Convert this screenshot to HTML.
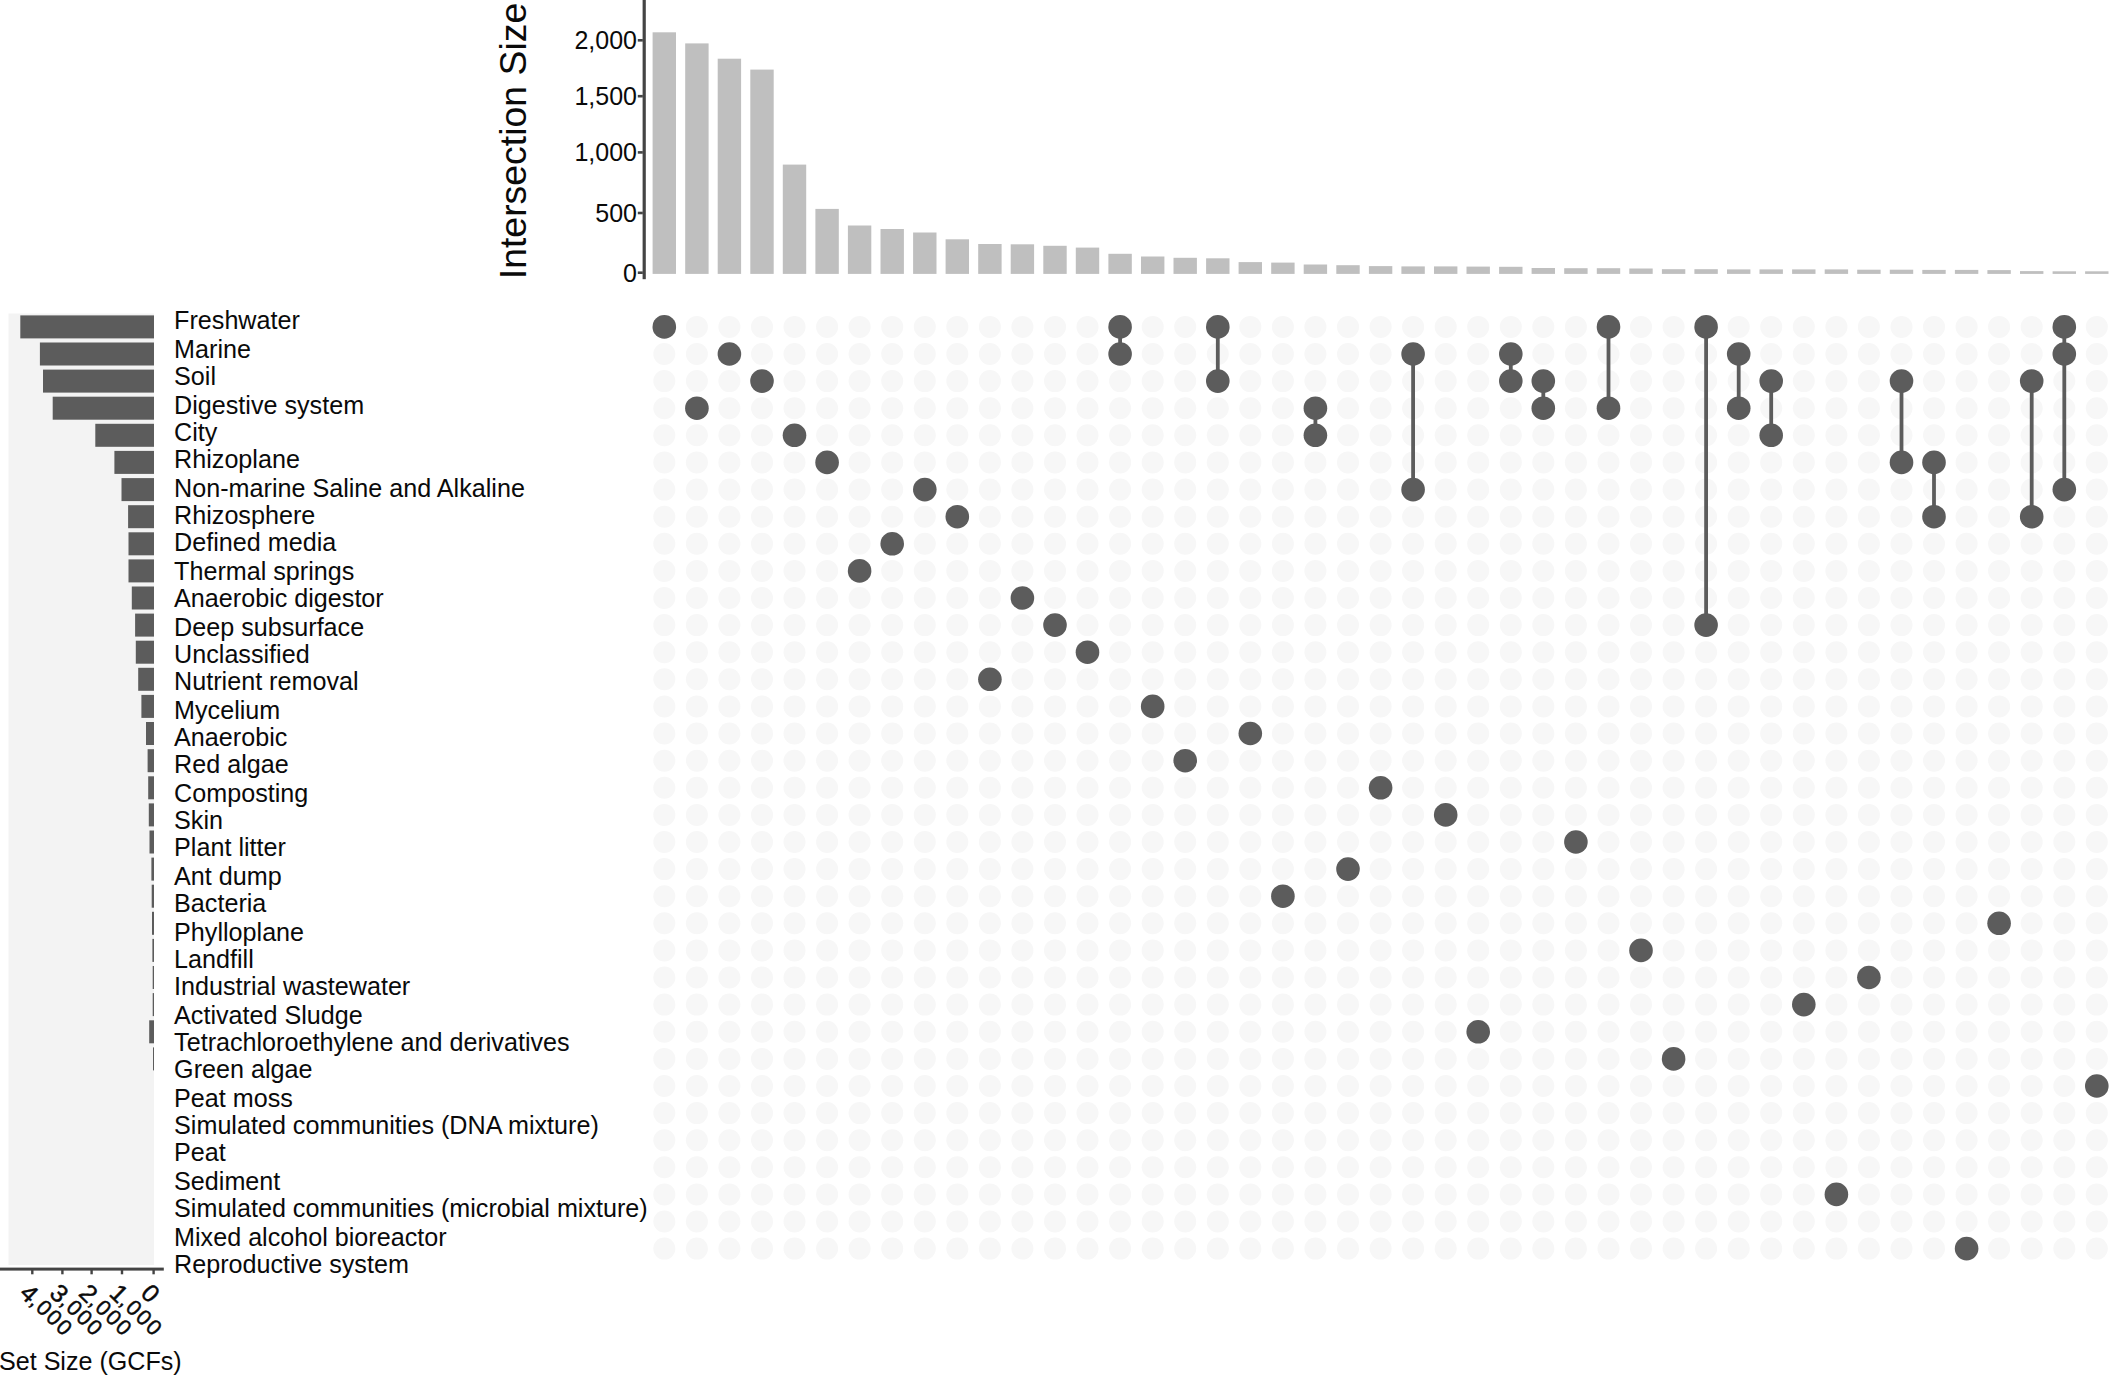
<!DOCTYPE html>
<html><head><meta charset="utf-8"><title>UpSet plot</title>
<style>html,body{margin:0;padding:0;background:#fff;overflow:hidden}svg{display:block}</style>
</head><body>
<svg width="2114" height="1376" viewBox="0 0 2114 1376" font-family="'Liberation Sans', sans-serif" fill="#0a0a0a">
<rect width="2114" height="1376" fill="#ffffff"/>
<rect x="8.5" y="313.5" width="145.5" height="951.5" fill="#f3f3f3"/>
<g fill="#5c5c5c">
<rect x="20.3" y="315.4" width="133.7" height="23"/>
<rect x="39.9" y="342.5" width="114.1" height="23"/>
<rect x="43.0" y="369.6" width="111.0" height="23"/>
<rect x="52.7" y="396.7" width="101.3" height="23"/>
<rect x="95.3" y="423.8" width="58.7" height="23"/>
<rect x="114.4" y="450.9" width="39.6" height="23"/>
<rect x="121.5" y="478.1" width="32.5" height="23"/>
<rect x="128.1" y="505.2" width="25.9" height="23"/>
<rect x="128.5" y="532.3" width="25.5" height="23"/>
<rect x="128.5" y="559.4" width="25.5" height="23"/>
<rect x="131.8" y="586.5" width="22.2" height="23"/>
<rect x="135.1" y="613.6" width="18.9" height="23"/>
<rect x="135.8" y="640.7" width="18.2" height="23"/>
<rect x="138.2" y="667.8" width="15.8" height="23"/>
<rect x="141.4" y="694.9" width="12.6" height="23"/>
<rect x="146.0" y="722.0" width="8.0" height="23"/>
<rect x="147.6" y="749.2" width="6.4" height="23"/>
<rect x="148.2" y="776.3" width="5.8" height="23"/>
<rect x="148.8" y="803.4" width="5.2" height="23"/>
<rect x="149.5" y="830.5" width="4.5" height="23"/>
<rect x="151.4" y="857.6" width="2.6" height="23"/>
<rect x="151.7" y="884.7" width="2.3" height="23"/>
<rect x="152.0" y="911.8" width="2.0" height="23"/>
<rect x="152.4" y="938.9" width="1.6" height="23"/>
<rect x="152.7" y="966.0" width="1.3" height="23"/>
<rect x="152.7" y="993.1" width="1.3" height="23"/>
<rect x="149.2" y="1020.3" width="4.8" height="23"/>
<rect x="153.0" y="1047.4" width="1.0" height="23"/>
</g>
<rect x="0" y="1267.6" width="163.8" height="3" fill="#444444"/>
<rect x="31.1" y="1269" width="2.4" height="5.3" fill="#444444"/>
<rect x="61.2" y="1269" width="2.4" height="5.3" fill="#444444"/>
<rect x="90.4" y="1269" width="2.4" height="5.3" fill="#444444"/>
<rect x="120.8" y="1269" width="2.4" height="5.3" fill="#444444"/>
<rect x="152.4" y="1269" width="2.4" height="5.3" fill="#444444"/>
<text font-size="25" stroke="#0a0a0a" stroke-width="0.45" transform="translate(24.4,1288.3) rotate(44)" x="0" y="8.9">4<tspan font-size="21.5" letter-spacing="2" dy="-1.2">,000</tspan></text>
<text font-size="25" stroke="#0a0a0a" stroke-width="0.45" transform="translate(54.5,1288.3) rotate(44)" x="0" y="8.9">3<tspan font-size="21.5" letter-spacing="2" dy="-1.2">,000</tspan></text>
<text font-size="25" stroke="#0a0a0a" stroke-width="0.45" transform="translate(83.7,1288.3) rotate(44)" x="0" y="8.9">2<tspan font-size="21.5" letter-spacing="2" dy="-1.2">,000</tspan></text>
<text font-size="25" stroke="#0a0a0a" stroke-width="0.45" transform="translate(114.1,1288.3) rotate(44)" x="0" y="8.9">1<tspan font-size="21.5" letter-spacing="2" dy="-1.2">,000</tspan></text>
<text font-size="25" stroke="#0a0a0a" stroke-width="0.45" transform="translate(145.7,1288.3) rotate(45)" x="0" y="8.9">0</text>
<text font-size="25.1" x="-1" y="1370.1">Set Size (GCFs)</text>
<g font-size="25.15">
<text x="174.1" y="328.5">Freshwater</text>
<text x="174.1" y="357.5">Marine</text>
<text x="174.1" y="384.5">Soil</text>
<text x="174.1" y="413.5">Digestive system</text>
<text x="174.1" y="440.5">City</text>
<text x="174.1" y="467.5">Rhizoplane</text>
<text x="174.1" y="496.5">Non-marine Saline and Alkaline</text>
<text x="174.1" y="523.5">Rhizosphere</text>
<text x="174.1" y="550.5">Defined media</text>
<text x="174.1" y="579.5">Thermal springs</text>
<text x="174.1" y="606.5">Anaerobic digestor</text>
<text x="174.1" y="635.5">Deep subsurface</text>
<text x="174.1" y="662.5">Unclassified</text>
<text x="174.1" y="689.5">Nutrient removal</text>
<text x="174.1" y="718.5">Mycelium</text>
<text x="174.1" y="745.5">Anaerobic</text>
<text x="174.1" y="772.5">Red algae</text>
<text x="174.1" y="801.5">Composting</text>
<text x="174.1" y="828.5">Skin</text>
<text x="174.1" y="855.5">Plant litter</text>
<text x="174.1" y="884.5">Ant dump</text>
<text x="174.1" y="911.5">Bacteria</text>
<text x="174.1" y="940.5">Phylloplane</text>
<text x="174.1" y="967.5">Landfill</text>
<text x="174.1" y="994.5">Industrial wastewater</text>
<text x="174.1" y="1023.5">Activated Sludge</text>
<text x="174.1" y="1050.5">Tetrachloroethylene and derivatives</text>
<text x="174.1" y="1077.5">Green algae</text>
<text x="174.1" y="1106.5">Peat moss</text>
<text x="174.1" y="1133.5">Simulated communities (DNA mixture)</text>
<text x="174.1" y="1160.5">Peat</text>
<text x="174.1" y="1189.5">Sediment</text>
<text x="174.1" y="1216.5">Simulated communities (microbial mixture)</text>
<text x="174.1" y="1245.5">Mixed alcohol bioreactor</text>
<text x="174.1" y="1272.5">Reproductive system</text>
</g>
<g fill="#bfbfbf">
<rect x="652.6" y="32.3" width="23.4" height="241.6"/>
<rect x="685.2" y="43.4" width="23.4" height="230.5"/>
<rect x="717.7" y="58.7" width="23.4" height="215.2"/>
<rect x="750.3" y="69.6" width="23.4" height="204.3"/>
<rect x="782.8" y="164.6" width="23.4" height="109.3"/>
<rect x="815.4" y="208.9" width="23.4" height="65.0"/>
<rect x="847.9" y="225.5" width="23.4" height="48.4"/>
<rect x="880.5" y="229.0" width="23.4" height="44.9"/>
<rect x="913.1" y="232.5" width="23.4" height="41.4"/>
<rect x="945.6" y="239.3" width="23.4" height="34.6"/>
<rect x="978.2" y="244.0" width="23.4" height="29.9"/>
<rect x="1010.7" y="244.3" width="23.4" height="29.6"/>
<rect x="1043.3" y="245.8" width="23.4" height="28.1"/>
<rect x="1075.8" y="247.6" width="23.4" height="26.3"/>
<rect x="1108.4" y="253.8" width="23.4" height="20.1"/>
<rect x="1141.0" y="256.5" width="23.4" height="17.4"/>
<rect x="1173.5" y="257.8" width="23.4" height="16.1"/>
<rect x="1206.1" y="258.3" width="23.4" height="15.6"/>
<rect x="1238.6" y="262.1" width="23.4" height="11.8"/>
<rect x="1271.2" y="262.6" width="23.4" height="11.3"/>
<rect x="1303.7" y="264.5" width="23.4" height="9.4"/>
<rect x="1336.3" y="265.2" width="23.4" height="8.7"/>
<rect x="1368.9" y="266.1" width="23.4" height="7.8"/>
<rect x="1401.4" y="266.4" width="23.4" height="7.5"/>
<rect x="1434.0" y="266.4" width="23.4" height="7.5"/>
<rect x="1466.5" y="266.6" width="23.4" height="7.3"/>
<rect x="1499.1" y="266.8" width="23.4" height="7.1"/>
<rect x="1531.6" y="268.0" width="23.4" height="5.9"/>
<rect x="1564.2" y="268.2" width="23.4" height="5.7"/>
<rect x="1596.8" y="268.2" width="23.4" height="5.7"/>
<rect x="1629.3" y="268.5" width="23.4" height="5.4"/>
<rect x="1661.9" y="269.2" width="23.4" height="4.7"/>
<rect x="1694.4" y="269.2" width="23.4" height="4.7"/>
<rect x="1727.0" y="269.4" width="23.4" height="4.5"/>
<rect x="1759.5" y="269.4" width="23.4" height="4.5"/>
<rect x="1792.1" y="269.4" width="23.4" height="4.5"/>
<rect x="1824.7" y="269.4" width="23.4" height="4.5"/>
<rect x="1857.2" y="269.7" width="23.4" height="4.2"/>
<rect x="1889.8" y="269.7" width="23.4" height="4.2"/>
<rect x="1922.3" y="269.9" width="23.4" height="4.0"/>
<rect x="1954.9" y="269.9" width="23.4" height="4.0"/>
<rect x="1987.4" y="270.1" width="23.4" height="3.8"/>
<rect x="2020.0" y="271.1" width="23.4" height="2.8"/>
<rect x="2052.6" y="271.3" width="23.4" height="2.6"/>
<rect x="2085.1" y="271.3" width="23.4" height="2.6"/>
</g>
<rect x="642.6" y="0" width="3.2" height="279.2" fill="#444444"/>
<rect x="637.8" y="39.0" width="5" height="2.6" fill="#444444"/>
<text font-size="25" text-anchor="end" x="637" y="49.3">2,000</text>
<rect x="637.8" y="94.9" width="5" height="2.6" fill="#444444"/>
<text font-size="25" text-anchor="end" x="637" y="105.2">1,500</text>
<rect x="637.8" y="151.1" width="5" height="2.6" fill="#444444"/>
<text font-size="25" text-anchor="end" x="637" y="161.4">1,000</text>
<rect x="637.8" y="211.7" width="5" height="2.6" fill="#444444"/>
<text font-size="25" text-anchor="end" x="637" y="222.0">500</text>
<rect x="637.8" y="271.4" width="5" height="2.6" fill="#444444"/>
<text font-size="25" text-anchor="end" x="637" y="281.7">0</text>
<text font-size="37.4" transform="translate(526.3,279.2) rotate(-90)">Intersection Size</text>
<g fill="#f7f7f7">
<circle cx="664.3" cy="326.9" r="11"/>
<circle cx="664.3" cy="354.0" r="11"/>
<circle cx="664.3" cy="381.1" r="11"/>
<circle cx="664.3" cy="408.2" r="11"/>
<circle cx="664.3" cy="435.3" r="11"/>
<circle cx="664.3" cy="462.4" r="11"/>
<circle cx="664.3" cy="489.6" r="11"/>
<circle cx="664.3" cy="516.7" r="11"/>
<circle cx="664.3" cy="543.8" r="11"/>
<circle cx="664.3" cy="570.9" r="11"/>
<circle cx="664.3" cy="598.0" r="11"/>
<circle cx="664.3" cy="625.1" r="11"/>
<circle cx="664.3" cy="652.2" r="11"/>
<circle cx="664.3" cy="679.3" r="11"/>
<circle cx="664.3" cy="706.4" r="11"/>
<circle cx="664.3" cy="733.5" r="11"/>
<circle cx="664.3" cy="760.7" r="11"/>
<circle cx="664.3" cy="787.8" r="11"/>
<circle cx="664.3" cy="814.9" r="11"/>
<circle cx="664.3" cy="842.0" r="11"/>
<circle cx="664.3" cy="869.1" r="11"/>
<circle cx="664.3" cy="896.2" r="11"/>
<circle cx="664.3" cy="923.3" r="11"/>
<circle cx="664.3" cy="950.4" r="11"/>
<circle cx="664.3" cy="977.5" r="11"/>
<circle cx="664.3" cy="1004.6" r="11"/>
<circle cx="664.3" cy="1031.8" r="11"/>
<circle cx="664.3" cy="1058.9" r="11"/>
<circle cx="664.3" cy="1086.0" r="11"/>
<circle cx="664.3" cy="1113.1" r="11"/>
<circle cx="664.3" cy="1140.2" r="11"/>
<circle cx="664.3" cy="1167.3" r="11"/>
<circle cx="664.3" cy="1194.4" r="11"/>
<circle cx="664.3" cy="1221.5" r="11"/>
<circle cx="664.3" cy="1248.6" r="11"/>
<circle cx="696.9" cy="326.9" r="11"/>
<circle cx="696.9" cy="354.0" r="11"/>
<circle cx="696.9" cy="381.1" r="11"/>
<circle cx="696.9" cy="408.2" r="11"/>
<circle cx="696.9" cy="435.3" r="11"/>
<circle cx="696.9" cy="462.4" r="11"/>
<circle cx="696.9" cy="489.6" r="11"/>
<circle cx="696.9" cy="516.7" r="11"/>
<circle cx="696.9" cy="543.8" r="11"/>
<circle cx="696.9" cy="570.9" r="11"/>
<circle cx="696.9" cy="598.0" r="11"/>
<circle cx="696.9" cy="625.1" r="11"/>
<circle cx="696.9" cy="652.2" r="11"/>
<circle cx="696.9" cy="679.3" r="11"/>
<circle cx="696.9" cy="706.4" r="11"/>
<circle cx="696.9" cy="733.5" r="11"/>
<circle cx="696.9" cy="760.7" r="11"/>
<circle cx="696.9" cy="787.8" r="11"/>
<circle cx="696.9" cy="814.9" r="11"/>
<circle cx="696.9" cy="842.0" r="11"/>
<circle cx="696.9" cy="869.1" r="11"/>
<circle cx="696.9" cy="896.2" r="11"/>
<circle cx="696.9" cy="923.3" r="11"/>
<circle cx="696.9" cy="950.4" r="11"/>
<circle cx="696.9" cy="977.5" r="11"/>
<circle cx="696.9" cy="1004.6" r="11"/>
<circle cx="696.9" cy="1031.8" r="11"/>
<circle cx="696.9" cy="1058.9" r="11"/>
<circle cx="696.9" cy="1086.0" r="11"/>
<circle cx="696.9" cy="1113.1" r="11"/>
<circle cx="696.9" cy="1140.2" r="11"/>
<circle cx="696.9" cy="1167.3" r="11"/>
<circle cx="696.9" cy="1194.4" r="11"/>
<circle cx="696.9" cy="1221.5" r="11"/>
<circle cx="696.9" cy="1248.6" r="11"/>
<circle cx="729.4" cy="326.9" r="11"/>
<circle cx="729.4" cy="354.0" r="11"/>
<circle cx="729.4" cy="381.1" r="11"/>
<circle cx="729.4" cy="408.2" r="11"/>
<circle cx="729.4" cy="435.3" r="11"/>
<circle cx="729.4" cy="462.4" r="11"/>
<circle cx="729.4" cy="489.6" r="11"/>
<circle cx="729.4" cy="516.7" r="11"/>
<circle cx="729.4" cy="543.8" r="11"/>
<circle cx="729.4" cy="570.9" r="11"/>
<circle cx="729.4" cy="598.0" r="11"/>
<circle cx="729.4" cy="625.1" r="11"/>
<circle cx="729.4" cy="652.2" r="11"/>
<circle cx="729.4" cy="679.3" r="11"/>
<circle cx="729.4" cy="706.4" r="11"/>
<circle cx="729.4" cy="733.5" r="11"/>
<circle cx="729.4" cy="760.7" r="11"/>
<circle cx="729.4" cy="787.8" r="11"/>
<circle cx="729.4" cy="814.9" r="11"/>
<circle cx="729.4" cy="842.0" r="11"/>
<circle cx="729.4" cy="869.1" r="11"/>
<circle cx="729.4" cy="896.2" r="11"/>
<circle cx="729.4" cy="923.3" r="11"/>
<circle cx="729.4" cy="950.4" r="11"/>
<circle cx="729.4" cy="977.5" r="11"/>
<circle cx="729.4" cy="1004.6" r="11"/>
<circle cx="729.4" cy="1031.8" r="11"/>
<circle cx="729.4" cy="1058.9" r="11"/>
<circle cx="729.4" cy="1086.0" r="11"/>
<circle cx="729.4" cy="1113.1" r="11"/>
<circle cx="729.4" cy="1140.2" r="11"/>
<circle cx="729.4" cy="1167.3" r="11"/>
<circle cx="729.4" cy="1194.4" r="11"/>
<circle cx="729.4" cy="1221.5" r="11"/>
<circle cx="729.4" cy="1248.6" r="11"/>
<circle cx="762.0" cy="326.9" r="11"/>
<circle cx="762.0" cy="354.0" r="11"/>
<circle cx="762.0" cy="381.1" r="11"/>
<circle cx="762.0" cy="408.2" r="11"/>
<circle cx="762.0" cy="435.3" r="11"/>
<circle cx="762.0" cy="462.4" r="11"/>
<circle cx="762.0" cy="489.6" r="11"/>
<circle cx="762.0" cy="516.7" r="11"/>
<circle cx="762.0" cy="543.8" r="11"/>
<circle cx="762.0" cy="570.9" r="11"/>
<circle cx="762.0" cy="598.0" r="11"/>
<circle cx="762.0" cy="625.1" r="11"/>
<circle cx="762.0" cy="652.2" r="11"/>
<circle cx="762.0" cy="679.3" r="11"/>
<circle cx="762.0" cy="706.4" r="11"/>
<circle cx="762.0" cy="733.5" r="11"/>
<circle cx="762.0" cy="760.7" r="11"/>
<circle cx="762.0" cy="787.8" r="11"/>
<circle cx="762.0" cy="814.9" r="11"/>
<circle cx="762.0" cy="842.0" r="11"/>
<circle cx="762.0" cy="869.1" r="11"/>
<circle cx="762.0" cy="896.2" r="11"/>
<circle cx="762.0" cy="923.3" r="11"/>
<circle cx="762.0" cy="950.4" r="11"/>
<circle cx="762.0" cy="977.5" r="11"/>
<circle cx="762.0" cy="1004.6" r="11"/>
<circle cx="762.0" cy="1031.8" r="11"/>
<circle cx="762.0" cy="1058.9" r="11"/>
<circle cx="762.0" cy="1086.0" r="11"/>
<circle cx="762.0" cy="1113.1" r="11"/>
<circle cx="762.0" cy="1140.2" r="11"/>
<circle cx="762.0" cy="1167.3" r="11"/>
<circle cx="762.0" cy="1194.4" r="11"/>
<circle cx="762.0" cy="1221.5" r="11"/>
<circle cx="762.0" cy="1248.6" r="11"/>
<circle cx="794.5" cy="326.9" r="11"/>
<circle cx="794.5" cy="354.0" r="11"/>
<circle cx="794.5" cy="381.1" r="11"/>
<circle cx="794.5" cy="408.2" r="11"/>
<circle cx="794.5" cy="435.3" r="11"/>
<circle cx="794.5" cy="462.4" r="11"/>
<circle cx="794.5" cy="489.6" r="11"/>
<circle cx="794.5" cy="516.7" r="11"/>
<circle cx="794.5" cy="543.8" r="11"/>
<circle cx="794.5" cy="570.9" r="11"/>
<circle cx="794.5" cy="598.0" r="11"/>
<circle cx="794.5" cy="625.1" r="11"/>
<circle cx="794.5" cy="652.2" r="11"/>
<circle cx="794.5" cy="679.3" r="11"/>
<circle cx="794.5" cy="706.4" r="11"/>
<circle cx="794.5" cy="733.5" r="11"/>
<circle cx="794.5" cy="760.7" r="11"/>
<circle cx="794.5" cy="787.8" r="11"/>
<circle cx="794.5" cy="814.9" r="11"/>
<circle cx="794.5" cy="842.0" r="11"/>
<circle cx="794.5" cy="869.1" r="11"/>
<circle cx="794.5" cy="896.2" r="11"/>
<circle cx="794.5" cy="923.3" r="11"/>
<circle cx="794.5" cy="950.4" r="11"/>
<circle cx="794.5" cy="977.5" r="11"/>
<circle cx="794.5" cy="1004.6" r="11"/>
<circle cx="794.5" cy="1031.8" r="11"/>
<circle cx="794.5" cy="1058.9" r="11"/>
<circle cx="794.5" cy="1086.0" r="11"/>
<circle cx="794.5" cy="1113.1" r="11"/>
<circle cx="794.5" cy="1140.2" r="11"/>
<circle cx="794.5" cy="1167.3" r="11"/>
<circle cx="794.5" cy="1194.4" r="11"/>
<circle cx="794.5" cy="1221.5" r="11"/>
<circle cx="794.5" cy="1248.6" r="11"/>
<circle cx="827.1" cy="326.9" r="11"/>
<circle cx="827.1" cy="354.0" r="11"/>
<circle cx="827.1" cy="381.1" r="11"/>
<circle cx="827.1" cy="408.2" r="11"/>
<circle cx="827.1" cy="435.3" r="11"/>
<circle cx="827.1" cy="462.4" r="11"/>
<circle cx="827.1" cy="489.6" r="11"/>
<circle cx="827.1" cy="516.7" r="11"/>
<circle cx="827.1" cy="543.8" r="11"/>
<circle cx="827.1" cy="570.9" r="11"/>
<circle cx="827.1" cy="598.0" r="11"/>
<circle cx="827.1" cy="625.1" r="11"/>
<circle cx="827.1" cy="652.2" r="11"/>
<circle cx="827.1" cy="679.3" r="11"/>
<circle cx="827.1" cy="706.4" r="11"/>
<circle cx="827.1" cy="733.5" r="11"/>
<circle cx="827.1" cy="760.7" r="11"/>
<circle cx="827.1" cy="787.8" r="11"/>
<circle cx="827.1" cy="814.9" r="11"/>
<circle cx="827.1" cy="842.0" r="11"/>
<circle cx="827.1" cy="869.1" r="11"/>
<circle cx="827.1" cy="896.2" r="11"/>
<circle cx="827.1" cy="923.3" r="11"/>
<circle cx="827.1" cy="950.4" r="11"/>
<circle cx="827.1" cy="977.5" r="11"/>
<circle cx="827.1" cy="1004.6" r="11"/>
<circle cx="827.1" cy="1031.8" r="11"/>
<circle cx="827.1" cy="1058.9" r="11"/>
<circle cx="827.1" cy="1086.0" r="11"/>
<circle cx="827.1" cy="1113.1" r="11"/>
<circle cx="827.1" cy="1140.2" r="11"/>
<circle cx="827.1" cy="1167.3" r="11"/>
<circle cx="827.1" cy="1194.4" r="11"/>
<circle cx="827.1" cy="1221.5" r="11"/>
<circle cx="827.1" cy="1248.6" r="11"/>
<circle cx="859.6" cy="326.9" r="11"/>
<circle cx="859.6" cy="354.0" r="11"/>
<circle cx="859.6" cy="381.1" r="11"/>
<circle cx="859.6" cy="408.2" r="11"/>
<circle cx="859.6" cy="435.3" r="11"/>
<circle cx="859.6" cy="462.4" r="11"/>
<circle cx="859.6" cy="489.6" r="11"/>
<circle cx="859.6" cy="516.7" r="11"/>
<circle cx="859.6" cy="543.8" r="11"/>
<circle cx="859.6" cy="570.9" r="11"/>
<circle cx="859.6" cy="598.0" r="11"/>
<circle cx="859.6" cy="625.1" r="11"/>
<circle cx="859.6" cy="652.2" r="11"/>
<circle cx="859.6" cy="679.3" r="11"/>
<circle cx="859.6" cy="706.4" r="11"/>
<circle cx="859.6" cy="733.5" r="11"/>
<circle cx="859.6" cy="760.7" r="11"/>
<circle cx="859.6" cy="787.8" r="11"/>
<circle cx="859.6" cy="814.9" r="11"/>
<circle cx="859.6" cy="842.0" r="11"/>
<circle cx="859.6" cy="869.1" r="11"/>
<circle cx="859.6" cy="896.2" r="11"/>
<circle cx="859.6" cy="923.3" r="11"/>
<circle cx="859.6" cy="950.4" r="11"/>
<circle cx="859.6" cy="977.5" r="11"/>
<circle cx="859.6" cy="1004.6" r="11"/>
<circle cx="859.6" cy="1031.8" r="11"/>
<circle cx="859.6" cy="1058.9" r="11"/>
<circle cx="859.6" cy="1086.0" r="11"/>
<circle cx="859.6" cy="1113.1" r="11"/>
<circle cx="859.6" cy="1140.2" r="11"/>
<circle cx="859.6" cy="1167.3" r="11"/>
<circle cx="859.6" cy="1194.4" r="11"/>
<circle cx="859.6" cy="1221.5" r="11"/>
<circle cx="859.6" cy="1248.6" r="11"/>
<circle cx="892.2" cy="326.9" r="11"/>
<circle cx="892.2" cy="354.0" r="11"/>
<circle cx="892.2" cy="381.1" r="11"/>
<circle cx="892.2" cy="408.2" r="11"/>
<circle cx="892.2" cy="435.3" r="11"/>
<circle cx="892.2" cy="462.4" r="11"/>
<circle cx="892.2" cy="489.6" r="11"/>
<circle cx="892.2" cy="516.7" r="11"/>
<circle cx="892.2" cy="543.8" r="11"/>
<circle cx="892.2" cy="570.9" r="11"/>
<circle cx="892.2" cy="598.0" r="11"/>
<circle cx="892.2" cy="625.1" r="11"/>
<circle cx="892.2" cy="652.2" r="11"/>
<circle cx="892.2" cy="679.3" r="11"/>
<circle cx="892.2" cy="706.4" r="11"/>
<circle cx="892.2" cy="733.5" r="11"/>
<circle cx="892.2" cy="760.7" r="11"/>
<circle cx="892.2" cy="787.8" r="11"/>
<circle cx="892.2" cy="814.9" r="11"/>
<circle cx="892.2" cy="842.0" r="11"/>
<circle cx="892.2" cy="869.1" r="11"/>
<circle cx="892.2" cy="896.2" r="11"/>
<circle cx="892.2" cy="923.3" r="11"/>
<circle cx="892.2" cy="950.4" r="11"/>
<circle cx="892.2" cy="977.5" r="11"/>
<circle cx="892.2" cy="1004.6" r="11"/>
<circle cx="892.2" cy="1031.8" r="11"/>
<circle cx="892.2" cy="1058.9" r="11"/>
<circle cx="892.2" cy="1086.0" r="11"/>
<circle cx="892.2" cy="1113.1" r="11"/>
<circle cx="892.2" cy="1140.2" r="11"/>
<circle cx="892.2" cy="1167.3" r="11"/>
<circle cx="892.2" cy="1194.4" r="11"/>
<circle cx="892.2" cy="1221.5" r="11"/>
<circle cx="892.2" cy="1248.6" r="11"/>
<circle cx="924.8" cy="326.9" r="11"/>
<circle cx="924.8" cy="354.0" r="11"/>
<circle cx="924.8" cy="381.1" r="11"/>
<circle cx="924.8" cy="408.2" r="11"/>
<circle cx="924.8" cy="435.3" r="11"/>
<circle cx="924.8" cy="462.4" r="11"/>
<circle cx="924.8" cy="489.6" r="11"/>
<circle cx="924.8" cy="516.7" r="11"/>
<circle cx="924.8" cy="543.8" r="11"/>
<circle cx="924.8" cy="570.9" r="11"/>
<circle cx="924.8" cy="598.0" r="11"/>
<circle cx="924.8" cy="625.1" r="11"/>
<circle cx="924.8" cy="652.2" r="11"/>
<circle cx="924.8" cy="679.3" r="11"/>
<circle cx="924.8" cy="706.4" r="11"/>
<circle cx="924.8" cy="733.5" r="11"/>
<circle cx="924.8" cy="760.7" r="11"/>
<circle cx="924.8" cy="787.8" r="11"/>
<circle cx="924.8" cy="814.9" r="11"/>
<circle cx="924.8" cy="842.0" r="11"/>
<circle cx="924.8" cy="869.1" r="11"/>
<circle cx="924.8" cy="896.2" r="11"/>
<circle cx="924.8" cy="923.3" r="11"/>
<circle cx="924.8" cy="950.4" r="11"/>
<circle cx="924.8" cy="977.5" r="11"/>
<circle cx="924.8" cy="1004.6" r="11"/>
<circle cx="924.8" cy="1031.8" r="11"/>
<circle cx="924.8" cy="1058.9" r="11"/>
<circle cx="924.8" cy="1086.0" r="11"/>
<circle cx="924.8" cy="1113.1" r="11"/>
<circle cx="924.8" cy="1140.2" r="11"/>
<circle cx="924.8" cy="1167.3" r="11"/>
<circle cx="924.8" cy="1194.4" r="11"/>
<circle cx="924.8" cy="1221.5" r="11"/>
<circle cx="924.8" cy="1248.6" r="11"/>
<circle cx="957.3" cy="326.9" r="11"/>
<circle cx="957.3" cy="354.0" r="11"/>
<circle cx="957.3" cy="381.1" r="11"/>
<circle cx="957.3" cy="408.2" r="11"/>
<circle cx="957.3" cy="435.3" r="11"/>
<circle cx="957.3" cy="462.4" r="11"/>
<circle cx="957.3" cy="489.6" r="11"/>
<circle cx="957.3" cy="516.7" r="11"/>
<circle cx="957.3" cy="543.8" r="11"/>
<circle cx="957.3" cy="570.9" r="11"/>
<circle cx="957.3" cy="598.0" r="11"/>
<circle cx="957.3" cy="625.1" r="11"/>
<circle cx="957.3" cy="652.2" r="11"/>
<circle cx="957.3" cy="679.3" r="11"/>
<circle cx="957.3" cy="706.4" r="11"/>
<circle cx="957.3" cy="733.5" r="11"/>
<circle cx="957.3" cy="760.7" r="11"/>
<circle cx="957.3" cy="787.8" r="11"/>
<circle cx="957.3" cy="814.9" r="11"/>
<circle cx="957.3" cy="842.0" r="11"/>
<circle cx="957.3" cy="869.1" r="11"/>
<circle cx="957.3" cy="896.2" r="11"/>
<circle cx="957.3" cy="923.3" r="11"/>
<circle cx="957.3" cy="950.4" r="11"/>
<circle cx="957.3" cy="977.5" r="11"/>
<circle cx="957.3" cy="1004.6" r="11"/>
<circle cx="957.3" cy="1031.8" r="11"/>
<circle cx="957.3" cy="1058.9" r="11"/>
<circle cx="957.3" cy="1086.0" r="11"/>
<circle cx="957.3" cy="1113.1" r="11"/>
<circle cx="957.3" cy="1140.2" r="11"/>
<circle cx="957.3" cy="1167.3" r="11"/>
<circle cx="957.3" cy="1194.4" r="11"/>
<circle cx="957.3" cy="1221.5" r="11"/>
<circle cx="957.3" cy="1248.6" r="11"/>
<circle cx="989.9" cy="326.9" r="11"/>
<circle cx="989.9" cy="354.0" r="11"/>
<circle cx="989.9" cy="381.1" r="11"/>
<circle cx="989.9" cy="408.2" r="11"/>
<circle cx="989.9" cy="435.3" r="11"/>
<circle cx="989.9" cy="462.4" r="11"/>
<circle cx="989.9" cy="489.6" r="11"/>
<circle cx="989.9" cy="516.7" r="11"/>
<circle cx="989.9" cy="543.8" r="11"/>
<circle cx="989.9" cy="570.9" r="11"/>
<circle cx="989.9" cy="598.0" r="11"/>
<circle cx="989.9" cy="625.1" r="11"/>
<circle cx="989.9" cy="652.2" r="11"/>
<circle cx="989.9" cy="679.3" r="11"/>
<circle cx="989.9" cy="706.4" r="11"/>
<circle cx="989.9" cy="733.5" r="11"/>
<circle cx="989.9" cy="760.7" r="11"/>
<circle cx="989.9" cy="787.8" r="11"/>
<circle cx="989.9" cy="814.9" r="11"/>
<circle cx="989.9" cy="842.0" r="11"/>
<circle cx="989.9" cy="869.1" r="11"/>
<circle cx="989.9" cy="896.2" r="11"/>
<circle cx="989.9" cy="923.3" r="11"/>
<circle cx="989.9" cy="950.4" r="11"/>
<circle cx="989.9" cy="977.5" r="11"/>
<circle cx="989.9" cy="1004.6" r="11"/>
<circle cx="989.9" cy="1031.8" r="11"/>
<circle cx="989.9" cy="1058.9" r="11"/>
<circle cx="989.9" cy="1086.0" r="11"/>
<circle cx="989.9" cy="1113.1" r="11"/>
<circle cx="989.9" cy="1140.2" r="11"/>
<circle cx="989.9" cy="1167.3" r="11"/>
<circle cx="989.9" cy="1194.4" r="11"/>
<circle cx="989.9" cy="1221.5" r="11"/>
<circle cx="989.9" cy="1248.6" r="11"/>
<circle cx="1022.4" cy="326.9" r="11"/>
<circle cx="1022.4" cy="354.0" r="11"/>
<circle cx="1022.4" cy="381.1" r="11"/>
<circle cx="1022.4" cy="408.2" r="11"/>
<circle cx="1022.4" cy="435.3" r="11"/>
<circle cx="1022.4" cy="462.4" r="11"/>
<circle cx="1022.4" cy="489.6" r="11"/>
<circle cx="1022.4" cy="516.7" r="11"/>
<circle cx="1022.4" cy="543.8" r="11"/>
<circle cx="1022.4" cy="570.9" r="11"/>
<circle cx="1022.4" cy="598.0" r="11"/>
<circle cx="1022.4" cy="625.1" r="11"/>
<circle cx="1022.4" cy="652.2" r="11"/>
<circle cx="1022.4" cy="679.3" r="11"/>
<circle cx="1022.4" cy="706.4" r="11"/>
<circle cx="1022.4" cy="733.5" r="11"/>
<circle cx="1022.4" cy="760.7" r="11"/>
<circle cx="1022.4" cy="787.8" r="11"/>
<circle cx="1022.4" cy="814.9" r="11"/>
<circle cx="1022.4" cy="842.0" r="11"/>
<circle cx="1022.4" cy="869.1" r="11"/>
<circle cx="1022.4" cy="896.2" r="11"/>
<circle cx="1022.4" cy="923.3" r="11"/>
<circle cx="1022.4" cy="950.4" r="11"/>
<circle cx="1022.4" cy="977.5" r="11"/>
<circle cx="1022.4" cy="1004.6" r="11"/>
<circle cx="1022.4" cy="1031.8" r="11"/>
<circle cx="1022.4" cy="1058.9" r="11"/>
<circle cx="1022.4" cy="1086.0" r="11"/>
<circle cx="1022.4" cy="1113.1" r="11"/>
<circle cx="1022.4" cy="1140.2" r="11"/>
<circle cx="1022.4" cy="1167.3" r="11"/>
<circle cx="1022.4" cy="1194.4" r="11"/>
<circle cx="1022.4" cy="1221.5" r="11"/>
<circle cx="1022.4" cy="1248.6" r="11"/>
<circle cx="1055.0" cy="326.9" r="11"/>
<circle cx="1055.0" cy="354.0" r="11"/>
<circle cx="1055.0" cy="381.1" r="11"/>
<circle cx="1055.0" cy="408.2" r="11"/>
<circle cx="1055.0" cy="435.3" r="11"/>
<circle cx="1055.0" cy="462.4" r="11"/>
<circle cx="1055.0" cy="489.6" r="11"/>
<circle cx="1055.0" cy="516.7" r="11"/>
<circle cx="1055.0" cy="543.8" r="11"/>
<circle cx="1055.0" cy="570.9" r="11"/>
<circle cx="1055.0" cy="598.0" r="11"/>
<circle cx="1055.0" cy="625.1" r="11"/>
<circle cx="1055.0" cy="652.2" r="11"/>
<circle cx="1055.0" cy="679.3" r="11"/>
<circle cx="1055.0" cy="706.4" r="11"/>
<circle cx="1055.0" cy="733.5" r="11"/>
<circle cx="1055.0" cy="760.7" r="11"/>
<circle cx="1055.0" cy="787.8" r="11"/>
<circle cx="1055.0" cy="814.9" r="11"/>
<circle cx="1055.0" cy="842.0" r="11"/>
<circle cx="1055.0" cy="869.1" r="11"/>
<circle cx="1055.0" cy="896.2" r="11"/>
<circle cx="1055.0" cy="923.3" r="11"/>
<circle cx="1055.0" cy="950.4" r="11"/>
<circle cx="1055.0" cy="977.5" r="11"/>
<circle cx="1055.0" cy="1004.6" r="11"/>
<circle cx="1055.0" cy="1031.8" r="11"/>
<circle cx="1055.0" cy="1058.9" r="11"/>
<circle cx="1055.0" cy="1086.0" r="11"/>
<circle cx="1055.0" cy="1113.1" r="11"/>
<circle cx="1055.0" cy="1140.2" r="11"/>
<circle cx="1055.0" cy="1167.3" r="11"/>
<circle cx="1055.0" cy="1194.4" r="11"/>
<circle cx="1055.0" cy="1221.5" r="11"/>
<circle cx="1055.0" cy="1248.6" r="11"/>
<circle cx="1087.5" cy="326.9" r="11"/>
<circle cx="1087.5" cy="354.0" r="11"/>
<circle cx="1087.5" cy="381.1" r="11"/>
<circle cx="1087.5" cy="408.2" r="11"/>
<circle cx="1087.5" cy="435.3" r="11"/>
<circle cx="1087.5" cy="462.4" r="11"/>
<circle cx="1087.5" cy="489.6" r="11"/>
<circle cx="1087.5" cy="516.7" r="11"/>
<circle cx="1087.5" cy="543.8" r="11"/>
<circle cx="1087.5" cy="570.9" r="11"/>
<circle cx="1087.5" cy="598.0" r="11"/>
<circle cx="1087.5" cy="625.1" r="11"/>
<circle cx="1087.5" cy="652.2" r="11"/>
<circle cx="1087.5" cy="679.3" r="11"/>
<circle cx="1087.5" cy="706.4" r="11"/>
<circle cx="1087.5" cy="733.5" r="11"/>
<circle cx="1087.5" cy="760.7" r="11"/>
<circle cx="1087.5" cy="787.8" r="11"/>
<circle cx="1087.5" cy="814.9" r="11"/>
<circle cx="1087.5" cy="842.0" r="11"/>
<circle cx="1087.5" cy="869.1" r="11"/>
<circle cx="1087.5" cy="896.2" r="11"/>
<circle cx="1087.5" cy="923.3" r="11"/>
<circle cx="1087.5" cy="950.4" r="11"/>
<circle cx="1087.5" cy="977.5" r="11"/>
<circle cx="1087.5" cy="1004.6" r="11"/>
<circle cx="1087.5" cy="1031.8" r="11"/>
<circle cx="1087.5" cy="1058.9" r="11"/>
<circle cx="1087.5" cy="1086.0" r="11"/>
<circle cx="1087.5" cy="1113.1" r="11"/>
<circle cx="1087.5" cy="1140.2" r="11"/>
<circle cx="1087.5" cy="1167.3" r="11"/>
<circle cx="1087.5" cy="1194.4" r="11"/>
<circle cx="1087.5" cy="1221.5" r="11"/>
<circle cx="1087.5" cy="1248.6" r="11"/>
<circle cx="1120.1" cy="326.9" r="11"/>
<circle cx="1120.1" cy="354.0" r="11"/>
<circle cx="1120.1" cy="381.1" r="11"/>
<circle cx="1120.1" cy="408.2" r="11"/>
<circle cx="1120.1" cy="435.3" r="11"/>
<circle cx="1120.1" cy="462.4" r="11"/>
<circle cx="1120.1" cy="489.6" r="11"/>
<circle cx="1120.1" cy="516.7" r="11"/>
<circle cx="1120.1" cy="543.8" r="11"/>
<circle cx="1120.1" cy="570.9" r="11"/>
<circle cx="1120.1" cy="598.0" r="11"/>
<circle cx="1120.1" cy="625.1" r="11"/>
<circle cx="1120.1" cy="652.2" r="11"/>
<circle cx="1120.1" cy="679.3" r="11"/>
<circle cx="1120.1" cy="706.4" r="11"/>
<circle cx="1120.1" cy="733.5" r="11"/>
<circle cx="1120.1" cy="760.7" r="11"/>
<circle cx="1120.1" cy="787.8" r="11"/>
<circle cx="1120.1" cy="814.9" r="11"/>
<circle cx="1120.1" cy="842.0" r="11"/>
<circle cx="1120.1" cy="869.1" r="11"/>
<circle cx="1120.1" cy="896.2" r="11"/>
<circle cx="1120.1" cy="923.3" r="11"/>
<circle cx="1120.1" cy="950.4" r="11"/>
<circle cx="1120.1" cy="977.5" r="11"/>
<circle cx="1120.1" cy="1004.6" r="11"/>
<circle cx="1120.1" cy="1031.8" r="11"/>
<circle cx="1120.1" cy="1058.9" r="11"/>
<circle cx="1120.1" cy="1086.0" r="11"/>
<circle cx="1120.1" cy="1113.1" r="11"/>
<circle cx="1120.1" cy="1140.2" r="11"/>
<circle cx="1120.1" cy="1167.3" r="11"/>
<circle cx="1120.1" cy="1194.4" r="11"/>
<circle cx="1120.1" cy="1221.5" r="11"/>
<circle cx="1120.1" cy="1248.6" r="11"/>
<circle cx="1152.7" cy="326.9" r="11"/>
<circle cx="1152.7" cy="354.0" r="11"/>
<circle cx="1152.7" cy="381.1" r="11"/>
<circle cx="1152.7" cy="408.2" r="11"/>
<circle cx="1152.7" cy="435.3" r="11"/>
<circle cx="1152.7" cy="462.4" r="11"/>
<circle cx="1152.7" cy="489.6" r="11"/>
<circle cx="1152.7" cy="516.7" r="11"/>
<circle cx="1152.7" cy="543.8" r="11"/>
<circle cx="1152.7" cy="570.9" r="11"/>
<circle cx="1152.7" cy="598.0" r="11"/>
<circle cx="1152.7" cy="625.1" r="11"/>
<circle cx="1152.7" cy="652.2" r="11"/>
<circle cx="1152.7" cy="679.3" r="11"/>
<circle cx="1152.7" cy="706.4" r="11"/>
<circle cx="1152.7" cy="733.5" r="11"/>
<circle cx="1152.7" cy="760.7" r="11"/>
<circle cx="1152.7" cy="787.8" r="11"/>
<circle cx="1152.7" cy="814.9" r="11"/>
<circle cx="1152.7" cy="842.0" r="11"/>
<circle cx="1152.7" cy="869.1" r="11"/>
<circle cx="1152.7" cy="896.2" r="11"/>
<circle cx="1152.7" cy="923.3" r="11"/>
<circle cx="1152.7" cy="950.4" r="11"/>
<circle cx="1152.7" cy="977.5" r="11"/>
<circle cx="1152.7" cy="1004.6" r="11"/>
<circle cx="1152.7" cy="1031.8" r="11"/>
<circle cx="1152.7" cy="1058.9" r="11"/>
<circle cx="1152.7" cy="1086.0" r="11"/>
<circle cx="1152.7" cy="1113.1" r="11"/>
<circle cx="1152.7" cy="1140.2" r="11"/>
<circle cx="1152.7" cy="1167.3" r="11"/>
<circle cx="1152.7" cy="1194.4" r="11"/>
<circle cx="1152.7" cy="1221.5" r="11"/>
<circle cx="1152.7" cy="1248.6" r="11"/>
<circle cx="1185.2" cy="326.9" r="11"/>
<circle cx="1185.2" cy="354.0" r="11"/>
<circle cx="1185.2" cy="381.1" r="11"/>
<circle cx="1185.2" cy="408.2" r="11"/>
<circle cx="1185.2" cy="435.3" r="11"/>
<circle cx="1185.2" cy="462.4" r="11"/>
<circle cx="1185.2" cy="489.6" r="11"/>
<circle cx="1185.2" cy="516.7" r="11"/>
<circle cx="1185.2" cy="543.8" r="11"/>
<circle cx="1185.2" cy="570.9" r="11"/>
<circle cx="1185.2" cy="598.0" r="11"/>
<circle cx="1185.2" cy="625.1" r="11"/>
<circle cx="1185.2" cy="652.2" r="11"/>
<circle cx="1185.2" cy="679.3" r="11"/>
<circle cx="1185.2" cy="706.4" r="11"/>
<circle cx="1185.2" cy="733.5" r="11"/>
<circle cx="1185.2" cy="760.7" r="11"/>
<circle cx="1185.2" cy="787.8" r="11"/>
<circle cx="1185.2" cy="814.9" r="11"/>
<circle cx="1185.2" cy="842.0" r="11"/>
<circle cx="1185.2" cy="869.1" r="11"/>
<circle cx="1185.2" cy="896.2" r="11"/>
<circle cx="1185.2" cy="923.3" r="11"/>
<circle cx="1185.2" cy="950.4" r="11"/>
<circle cx="1185.2" cy="977.5" r="11"/>
<circle cx="1185.2" cy="1004.6" r="11"/>
<circle cx="1185.2" cy="1031.8" r="11"/>
<circle cx="1185.2" cy="1058.9" r="11"/>
<circle cx="1185.2" cy="1086.0" r="11"/>
<circle cx="1185.2" cy="1113.1" r="11"/>
<circle cx="1185.2" cy="1140.2" r="11"/>
<circle cx="1185.2" cy="1167.3" r="11"/>
<circle cx="1185.2" cy="1194.4" r="11"/>
<circle cx="1185.2" cy="1221.5" r="11"/>
<circle cx="1185.2" cy="1248.6" r="11"/>
<circle cx="1217.8" cy="326.9" r="11"/>
<circle cx="1217.8" cy="354.0" r="11"/>
<circle cx="1217.8" cy="381.1" r="11"/>
<circle cx="1217.8" cy="408.2" r="11"/>
<circle cx="1217.8" cy="435.3" r="11"/>
<circle cx="1217.8" cy="462.4" r="11"/>
<circle cx="1217.8" cy="489.6" r="11"/>
<circle cx="1217.8" cy="516.7" r="11"/>
<circle cx="1217.8" cy="543.8" r="11"/>
<circle cx="1217.8" cy="570.9" r="11"/>
<circle cx="1217.8" cy="598.0" r="11"/>
<circle cx="1217.8" cy="625.1" r="11"/>
<circle cx="1217.8" cy="652.2" r="11"/>
<circle cx="1217.8" cy="679.3" r="11"/>
<circle cx="1217.8" cy="706.4" r="11"/>
<circle cx="1217.8" cy="733.5" r="11"/>
<circle cx="1217.8" cy="760.7" r="11"/>
<circle cx="1217.8" cy="787.8" r="11"/>
<circle cx="1217.8" cy="814.9" r="11"/>
<circle cx="1217.8" cy="842.0" r="11"/>
<circle cx="1217.8" cy="869.1" r="11"/>
<circle cx="1217.8" cy="896.2" r="11"/>
<circle cx="1217.8" cy="923.3" r="11"/>
<circle cx="1217.8" cy="950.4" r="11"/>
<circle cx="1217.8" cy="977.5" r="11"/>
<circle cx="1217.8" cy="1004.6" r="11"/>
<circle cx="1217.8" cy="1031.8" r="11"/>
<circle cx="1217.8" cy="1058.9" r="11"/>
<circle cx="1217.8" cy="1086.0" r="11"/>
<circle cx="1217.8" cy="1113.1" r="11"/>
<circle cx="1217.8" cy="1140.2" r="11"/>
<circle cx="1217.8" cy="1167.3" r="11"/>
<circle cx="1217.8" cy="1194.4" r="11"/>
<circle cx="1217.8" cy="1221.5" r="11"/>
<circle cx="1217.8" cy="1248.6" r="11"/>
<circle cx="1250.3" cy="326.9" r="11"/>
<circle cx="1250.3" cy="354.0" r="11"/>
<circle cx="1250.3" cy="381.1" r="11"/>
<circle cx="1250.3" cy="408.2" r="11"/>
<circle cx="1250.3" cy="435.3" r="11"/>
<circle cx="1250.3" cy="462.4" r="11"/>
<circle cx="1250.3" cy="489.6" r="11"/>
<circle cx="1250.3" cy="516.7" r="11"/>
<circle cx="1250.3" cy="543.8" r="11"/>
<circle cx="1250.3" cy="570.9" r="11"/>
<circle cx="1250.3" cy="598.0" r="11"/>
<circle cx="1250.3" cy="625.1" r="11"/>
<circle cx="1250.3" cy="652.2" r="11"/>
<circle cx="1250.3" cy="679.3" r="11"/>
<circle cx="1250.3" cy="706.4" r="11"/>
<circle cx="1250.3" cy="733.5" r="11"/>
<circle cx="1250.3" cy="760.7" r="11"/>
<circle cx="1250.3" cy="787.8" r="11"/>
<circle cx="1250.3" cy="814.9" r="11"/>
<circle cx="1250.3" cy="842.0" r="11"/>
<circle cx="1250.3" cy="869.1" r="11"/>
<circle cx="1250.3" cy="896.2" r="11"/>
<circle cx="1250.3" cy="923.3" r="11"/>
<circle cx="1250.3" cy="950.4" r="11"/>
<circle cx="1250.3" cy="977.5" r="11"/>
<circle cx="1250.3" cy="1004.6" r="11"/>
<circle cx="1250.3" cy="1031.8" r="11"/>
<circle cx="1250.3" cy="1058.9" r="11"/>
<circle cx="1250.3" cy="1086.0" r="11"/>
<circle cx="1250.3" cy="1113.1" r="11"/>
<circle cx="1250.3" cy="1140.2" r="11"/>
<circle cx="1250.3" cy="1167.3" r="11"/>
<circle cx="1250.3" cy="1194.4" r="11"/>
<circle cx="1250.3" cy="1221.5" r="11"/>
<circle cx="1250.3" cy="1248.6" r="11"/>
<circle cx="1282.9" cy="326.9" r="11"/>
<circle cx="1282.9" cy="354.0" r="11"/>
<circle cx="1282.9" cy="381.1" r="11"/>
<circle cx="1282.9" cy="408.2" r="11"/>
<circle cx="1282.9" cy="435.3" r="11"/>
<circle cx="1282.9" cy="462.4" r="11"/>
<circle cx="1282.9" cy="489.6" r="11"/>
<circle cx="1282.9" cy="516.7" r="11"/>
<circle cx="1282.9" cy="543.8" r="11"/>
<circle cx="1282.9" cy="570.9" r="11"/>
<circle cx="1282.9" cy="598.0" r="11"/>
<circle cx="1282.9" cy="625.1" r="11"/>
<circle cx="1282.9" cy="652.2" r="11"/>
<circle cx="1282.9" cy="679.3" r="11"/>
<circle cx="1282.9" cy="706.4" r="11"/>
<circle cx="1282.9" cy="733.5" r="11"/>
<circle cx="1282.9" cy="760.7" r="11"/>
<circle cx="1282.9" cy="787.8" r="11"/>
<circle cx="1282.9" cy="814.9" r="11"/>
<circle cx="1282.9" cy="842.0" r="11"/>
<circle cx="1282.9" cy="869.1" r="11"/>
<circle cx="1282.9" cy="896.2" r="11"/>
<circle cx="1282.9" cy="923.3" r="11"/>
<circle cx="1282.9" cy="950.4" r="11"/>
<circle cx="1282.9" cy="977.5" r="11"/>
<circle cx="1282.9" cy="1004.6" r="11"/>
<circle cx="1282.9" cy="1031.8" r="11"/>
<circle cx="1282.9" cy="1058.9" r="11"/>
<circle cx="1282.9" cy="1086.0" r="11"/>
<circle cx="1282.9" cy="1113.1" r="11"/>
<circle cx="1282.9" cy="1140.2" r="11"/>
<circle cx="1282.9" cy="1167.3" r="11"/>
<circle cx="1282.9" cy="1194.4" r="11"/>
<circle cx="1282.9" cy="1221.5" r="11"/>
<circle cx="1282.9" cy="1248.6" r="11"/>
<circle cx="1315.4" cy="326.9" r="11"/>
<circle cx="1315.4" cy="354.0" r="11"/>
<circle cx="1315.4" cy="381.1" r="11"/>
<circle cx="1315.4" cy="408.2" r="11"/>
<circle cx="1315.4" cy="435.3" r="11"/>
<circle cx="1315.4" cy="462.4" r="11"/>
<circle cx="1315.4" cy="489.6" r="11"/>
<circle cx="1315.4" cy="516.7" r="11"/>
<circle cx="1315.4" cy="543.8" r="11"/>
<circle cx="1315.4" cy="570.9" r="11"/>
<circle cx="1315.4" cy="598.0" r="11"/>
<circle cx="1315.4" cy="625.1" r="11"/>
<circle cx="1315.4" cy="652.2" r="11"/>
<circle cx="1315.4" cy="679.3" r="11"/>
<circle cx="1315.4" cy="706.4" r="11"/>
<circle cx="1315.4" cy="733.5" r="11"/>
<circle cx="1315.4" cy="760.7" r="11"/>
<circle cx="1315.4" cy="787.8" r="11"/>
<circle cx="1315.4" cy="814.9" r="11"/>
<circle cx="1315.4" cy="842.0" r="11"/>
<circle cx="1315.4" cy="869.1" r="11"/>
<circle cx="1315.4" cy="896.2" r="11"/>
<circle cx="1315.4" cy="923.3" r="11"/>
<circle cx="1315.4" cy="950.4" r="11"/>
<circle cx="1315.4" cy="977.5" r="11"/>
<circle cx="1315.4" cy="1004.6" r="11"/>
<circle cx="1315.4" cy="1031.8" r="11"/>
<circle cx="1315.4" cy="1058.9" r="11"/>
<circle cx="1315.4" cy="1086.0" r="11"/>
<circle cx="1315.4" cy="1113.1" r="11"/>
<circle cx="1315.4" cy="1140.2" r="11"/>
<circle cx="1315.4" cy="1167.3" r="11"/>
<circle cx="1315.4" cy="1194.4" r="11"/>
<circle cx="1315.4" cy="1221.5" r="11"/>
<circle cx="1315.4" cy="1248.6" r="11"/>
<circle cx="1348.0" cy="326.9" r="11"/>
<circle cx="1348.0" cy="354.0" r="11"/>
<circle cx="1348.0" cy="381.1" r="11"/>
<circle cx="1348.0" cy="408.2" r="11"/>
<circle cx="1348.0" cy="435.3" r="11"/>
<circle cx="1348.0" cy="462.4" r="11"/>
<circle cx="1348.0" cy="489.6" r="11"/>
<circle cx="1348.0" cy="516.7" r="11"/>
<circle cx="1348.0" cy="543.8" r="11"/>
<circle cx="1348.0" cy="570.9" r="11"/>
<circle cx="1348.0" cy="598.0" r="11"/>
<circle cx="1348.0" cy="625.1" r="11"/>
<circle cx="1348.0" cy="652.2" r="11"/>
<circle cx="1348.0" cy="679.3" r="11"/>
<circle cx="1348.0" cy="706.4" r="11"/>
<circle cx="1348.0" cy="733.5" r="11"/>
<circle cx="1348.0" cy="760.7" r="11"/>
<circle cx="1348.0" cy="787.8" r="11"/>
<circle cx="1348.0" cy="814.9" r="11"/>
<circle cx="1348.0" cy="842.0" r="11"/>
<circle cx="1348.0" cy="869.1" r="11"/>
<circle cx="1348.0" cy="896.2" r="11"/>
<circle cx="1348.0" cy="923.3" r="11"/>
<circle cx="1348.0" cy="950.4" r="11"/>
<circle cx="1348.0" cy="977.5" r="11"/>
<circle cx="1348.0" cy="1004.6" r="11"/>
<circle cx="1348.0" cy="1031.8" r="11"/>
<circle cx="1348.0" cy="1058.9" r="11"/>
<circle cx="1348.0" cy="1086.0" r="11"/>
<circle cx="1348.0" cy="1113.1" r="11"/>
<circle cx="1348.0" cy="1140.2" r="11"/>
<circle cx="1348.0" cy="1167.3" r="11"/>
<circle cx="1348.0" cy="1194.4" r="11"/>
<circle cx="1348.0" cy="1221.5" r="11"/>
<circle cx="1348.0" cy="1248.6" r="11"/>
<circle cx="1380.6" cy="326.9" r="11"/>
<circle cx="1380.6" cy="354.0" r="11"/>
<circle cx="1380.6" cy="381.1" r="11"/>
<circle cx="1380.6" cy="408.2" r="11"/>
<circle cx="1380.6" cy="435.3" r="11"/>
<circle cx="1380.6" cy="462.4" r="11"/>
<circle cx="1380.6" cy="489.6" r="11"/>
<circle cx="1380.6" cy="516.7" r="11"/>
<circle cx="1380.6" cy="543.8" r="11"/>
<circle cx="1380.6" cy="570.9" r="11"/>
<circle cx="1380.6" cy="598.0" r="11"/>
<circle cx="1380.6" cy="625.1" r="11"/>
<circle cx="1380.6" cy="652.2" r="11"/>
<circle cx="1380.6" cy="679.3" r="11"/>
<circle cx="1380.6" cy="706.4" r="11"/>
<circle cx="1380.6" cy="733.5" r="11"/>
<circle cx="1380.6" cy="760.7" r="11"/>
<circle cx="1380.6" cy="787.8" r="11"/>
<circle cx="1380.6" cy="814.9" r="11"/>
<circle cx="1380.6" cy="842.0" r="11"/>
<circle cx="1380.6" cy="869.1" r="11"/>
<circle cx="1380.6" cy="896.2" r="11"/>
<circle cx="1380.6" cy="923.3" r="11"/>
<circle cx="1380.6" cy="950.4" r="11"/>
<circle cx="1380.6" cy="977.5" r="11"/>
<circle cx="1380.6" cy="1004.6" r="11"/>
<circle cx="1380.6" cy="1031.8" r="11"/>
<circle cx="1380.6" cy="1058.9" r="11"/>
<circle cx="1380.6" cy="1086.0" r="11"/>
<circle cx="1380.6" cy="1113.1" r="11"/>
<circle cx="1380.6" cy="1140.2" r="11"/>
<circle cx="1380.6" cy="1167.3" r="11"/>
<circle cx="1380.6" cy="1194.4" r="11"/>
<circle cx="1380.6" cy="1221.5" r="11"/>
<circle cx="1380.6" cy="1248.6" r="11"/>
<circle cx="1413.1" cy="326.9" r="11"/>
<circle cx="1413.1" cy="354.0" r="11"/>
<circle cx="1413.1" cy="381.1" r="11"/>
<circle cx="1413.1" cy="408.2" r="11"/>
<circle cx="1413.1" cy="435.3" r="11"/>
<circle cx="1413.1" cy="462.4" r="11"/>
<circle cx="1413.1" cy="489.6" r="11"/>
<circle cx="1413.1" cy="516.7" r="11"/>
<circle cx="1413.1" cy="543.8" r="11"/>
<circle cx="1413.1" cy="570.9" r="11"/>
<circle cx="1413.1" cy="598.0" r="11"/>
<circle cx="1413.1" cy="625.1" r="11"/>
<circle cx="1413.1" cy="652.2" r="11"/>
<circle cx="1413.1" cy="679.3" r="11"/>
<circle cx="1413.1" cy="706.4" r="11"/>
<circle cx="1413.1" cy="733.5" r="11"/>
<circle cx="1413.1" cy="760.7" r="11"/>
<circle cx="1413.1" cy="787.8" r="11"/>
<circle cx="1413.1" cy="814.9" r="11"/>
<circle cx="1413.1" cy="842.0" r="11"/>
<circle cx="1413.1" cy="869.1" r="11"/>
<circle cx="1413.1" cy="896.2" r="11"/>
<circle cx="1413.1" cy="923.3" r="11"/>
<circle cx="1413.1" cy="950.4" r="11"/>
<circle cx="1413.1" cy="977.5" r="11"/>
<circle cx="1413.1" cy="1004.6" r="11"/>
<circle cx="1413.1" cy="1031.8" r="11"/>
<circle cx="1413.1" cy="1058.9" r="11"/>
<circle cx="1413.1" cy="1086.0" r="11"/>
<circle cx="1413.1" cy="1113.1" r="11"/>
<circle cx="1413.1" cy="1140.2" r="11"/>
<circle cx="1413.1" cy="1167.3" r="11"/>
<circle cx="1413.1" cy="1194.4" r="11"/>
<circle cx="1413.1" cy="1221.5" r="11"/>
<circle cx="1413.1" cy="1248.6" r="11"/>
<circle cx="1445.7" cy="326.9" r="11"/>
<circle cx="1445.7" cy="354.0" r="11"/>
<circle cx="1445.7" cy="381.1" r="11"/>
<circle cx="1445.7" cy="408.2" r="11"/>
<circle cx="1445.7" cy="435.3" r="11"/>
<circle cx="1445.7" cy="462.4" r="11"/>
<circle cx="1445.7" cy="489.6" r="11"/>
<circle cx="1445.7" cy="516.7" r="11"/>
<circle cx="1445.7" cy="543.8" r="11"/>
<circle cx="1445.7" cy="570.9" r="11"/>
<circle cx="1445.7" cy="598.0" r="11"/>
<circle cx="1445.7" cy="625.1" r="11"/>
<circle cx="1445.7" cy="652.2" r="11"/>
<circle cx="1445.7" cy="679.3" r="11"/>
<circle cx="1445.7" cy="706.4" r="11"/>
<circle cx="1445.7" cy="733.5" r="11"/>
<circle cx="1445.7" cy="760.7" r="11"/>
<circle cx="1445.7" cy="787.8" r="11"/>
<circle cx="1445.7" cy="814.9" r="11"/>
<circle cx="1445.7" cy="842.0" r="11"/>
<circle cx="1445.7" cy="869.1" r="11"/>
<circle cx="1445.7" cy="896.2" r="11"/>
<circle cx="1445.7" cy="923.3" r="11"/>
<circle cx="1445.7" cy="950.4" r="11"/>
<circle cx="1445.7" cy="977.5" r="11"/>
<circle cx="1445.7" cy="1004.6" r="11"/>
<circle cx="1445.7" cy="1031.8" r="11"/>
<circle cx="1445.7" cy="1058.9" r="11"/>
<circle cx="1445.7" cy="1086.0" r="11"/>
<circle cx="1445.7" cy="1113.1" r="11"/>
<circle cx="1445.7" cy="1140.2" r="11"/>
<circle cx="1445.7" cy="1167.3" r="11"/>
<circle cx="1445.7" cy="1194.4" r="11"/>
<circle cx="1445.7" cy="1221.5" r="11"/>
<circle cx="1445.7" cy="1248.6" r="11"/>
<circle cx="1478.2" cy="326.9" r="11"/>
<circle cx="1478.2" cy="354.0" r="11"/>
<circle cx="1478.2" cy="381.1" r="11"/>
<circle cx="1478.2" cy="408.2" r="11"/>
<circle cx="1478.2" cy="435.3" r="11"/>
<circle cx="1478.2" cy="462.4" r="11"/>
<circle cx="1478.2" cy="489.6" r="11"/>
<circle cx="1478.2" cy="516.7" r="11"/>
<circle cx="1478.2" cy="543.8" r="11"/>
<circle cx="1478.2" cy="570.9" r="11"/>
<circle cx="1478.2" cy="598.0" r="11"/>
<circle cx="1478.2" cy="625.1" r="11"/>
<circle cx="1478.2" cy="652.2" r="11"/>
<circle cx="1478.2" cy="679.3" r="11"/>
<circle cx="1478.2" cy="706.4" r="11"/>
<circle cx="1478.2" cy="733.5" r="11"/>
<circle cx="1478.2" cy="760.7" r="11"/>
<circle cx="1478.2" cy="787.8" r="11"/>
<circle cx="1478.2" cy="814.9" r="11"/>
<circle cx="1478.2" cy="842.0" r="11"/>
<circle cx="1478.2" cy="869.1" r="11"/>
<circle cx="1478.2" cy="896.2" r="11"/>
<circle cx="1478.2" cy="923.3" r="11"/>
<circle cx="1478.2" cy="950.4" r="11"/>
<circle cx="1478.2" cy="977.5" r="11"/>
<circle cx="1478.2" cy="1004.6" r="11"/>
<circle cx="1478.2" cy="1031.8" r="11"/>
<circle cx="1478.2" cy="1058.9" r="11"/>
<circle cx="1478.2" cy="1086.0" r="11"/>
<circle cx="1478.2" cy="1113.1" r="11"/>
<circle cx="1478.2" cy="1140.2" r="11"/>
<circle cx="1478.2" cy="1167.3" r="11"/>
<circle cx="1478.2" cy="1194.4" r="11"/>
<circle cx="1478.2" cy="1221.5" r="11"/>
<circle cx="1478.2" cy="1248.6" r="11"/>
<circle cx="1510.8" cy="326.9" r="11"/>
<circle cx="1510.8" cy="354.0" r="11"/>
<circle cx="1510.8" cy="381.1" r="11"/>
<circle cx="1510.8" cy="408.2" r="11"/>
<circle cx="1510.8" cy="435.3" r="11"/>
<circle cx="1510.8" cy="462.4" r="11"/>
<circle cx="1510.8" cy="489.6" r="11"/>
<circle cx="1510.8" cy="516.7" r="11"/>
<circle cx="1510.8" cy="543.8" r="11"/>
<circle cx="1510.8" cy="570.9" r="11"/>
<circle cx="1510.8" cy="598.0" r="11"/>
<circle cx="1510.8" cy="625.1" r="11"/>
<circle cx="1510.8" cy="652.2" r="11"/>
<circle cx="1510.8" cy="679.3" r="11"/>
<circle cx="1510.8" cy="706.4" r="11"/>
<circle cx="1510.8" cy="733.5" r="11"/>
<circle cx="1510.8" cy="760.7" r="11"/>
<circle cx="1510.8" cy="787.8" r="11"/>
<circle cx="1510.8" cy="814.9" r="11"/>
<circle cx="1510.8" cy="842.0" r="11"/>
<circle cx="1510.8" cy="869.1" r="11"/>
<circle cx="1510.8" cy="896.2" r="11"/>
<circle cx="1510.8" cy="923.3" r="11"/>
<circle cx="1510.8" cy="950.4" r="11"/>
<circle cx="1510.8" cy="977.5" r="11"/>
<circle cx="1510.8" cy="1004.6" r="11"/>
<circle cx="1510.8" cy="1031.8" r="11"/>
<circle cx="1510.8" cy="1058.9" r="11"/>
<circle cx="1510.8" cy="1086.0" r="11"/>
<circle cx="1510.8" cy="1113.1" r="11"/>
<circle cx="1510.8" cy="1140.2" r="11"/>
<circle cx="1510.8" cy="1167.3" r="11"/>
<circle cx="1510.8" cy="1194.4" r="11"/>
<circle cx="1510.8" cy="1221.5" r="11"/>
<circle cx="1510.8" cy="1248.6" r="11"/>
<circle cx="1543.3" cy="326.9" r="11"/>
<circle cx="1543.3" cy="354.0" r="11"/>
<circle cx="1543.3" cy="381.1" r="11"/>
<circle cx="1543.3" cy="408.2" r="11"/>
<circle cx="1543.3" cy="435.3" r="11"/>
<circle cx="1543.3" cy="462.4" r="11"/>
<circle cx="1543.3" cy="489.6" r="11"/>
<circle cx="1543.3" cy="516.7" r="11"/>
<circle cx="1543.3" cy="543.8" r="11"/>
<circle cx="1543.3" cy="570.9" r="11"/>
<circle cx="1543.3" cy="598.0" r="11"/>
<circle cx="1543.3" cy="625.1" r="11"/>
<circle cx="1543.3" cy="652.2" r="11"/>
<circle cx="1543.3" cy="679.3" r="11"/>
<circle cx="1543.3" cy="706.4" r="11"/>
<circle cx="1543.3" cy="733.5" r="11"/>
<circle cx="1543.3" cy="760.7" r="11"/>
<circle cx="1543.3" cy="787.8" r="11"/>
<circle cx="1543.3" cy="814.9" r="11"/>
<circle cx="1543.3" cy="842.0" r="11"/>
<circle cx="1543.3" cy="869.1" r="11"/>
<circle cx="1543.3" cy="896.2" r="11"/>
<circle cx="1543.3" cy="923.3" r="11"/>
<circle cx="1543.3" cy="950.4" r="11"/>
<circle cx="1543.3" cy="977.5" r="11"/>
<circle cx="1543.3" cy="1004.6" r="11"/>
<circle cx="1543.3" cy="1031.8" r="11"/>
<circle cx="1543.3" cy="1058.9" r="11"/>
<circle cx="1543.3" cy="1086.0" r="11"/>
<circle cx="1543.3" cy="1113.1" r="11"/>
<circle cx="1543.3" cy="1140.2" r="11"/>
<circle cx="1543.3" cy="1167.3" r="11"/>
<circle cx="1543.3" cy="1194.4" r="11"/>
<circle cx="1543.3" cy="1221.5" r="11"/>
<circle cx="1543.3" cy="1248.6" r="11"/>
<circle cx="1575.9" cy="326.9" r="11"/>
<circle cx="1575.9" cy="354.0" r="11"/>
<circle cx="1575.9" cy="381.1" r="11"/>
<circle cx="1575.9" cy="408.2" r="11"/>
<circle cx="1575.9" cy="435.3" r="11"/>
<circle cx="1575.9" cy="462.4" r="11"/>
<circle cx="1575.9" cy="489.6" r="11"/>
<circle cx="1575.9" cy="516.7" r="11"/>
<circle cx="1575.9" cy="543.8" r="11"/>
<circle cx="1575.9" cy="570.9" r="11"/>
<circle cx="1575.9" cy="598.0" r="11"/>
<circle cx="1575.9" cy="625.1" r="11"/>
<circle cx="1575.9" cy="652.2" r="11"/>
<circle cx="1575.9" cy="679.3" r="11"/>
<circle cx="1575.9" cy="706.4" r="11"/>
<circle cx="1575.9" cy="733.5" r="11"/>
<circle cx="1575.9" cy="760.7" r="11"/>
<circle cx="1575.9" cy="787.8" r="11"/>
<circle cx="1575.9" cy="814.9" r="11"/>
<circle cx="1575.9" cy="842.0" r="11"/>
<circle cx="1575.9" cy="869.1" r="11"/>
<circle cx="1575.9" cy="896.2" r="11"/>
<circle cx="1575.9" cy="923.3" r="11"/>
<circle cx="1575.9" cy="950.4" r="11"/>
<circle cx="1575.9" cy="977.5" r="11"/>
<circle cx="1575.9" cy="1004.6" r="11"/>
<circle cx="1575.9" cy="1031.8" r="11"/>
<circle cx="1575.9" cy="1058.9" r="11"/>
<circle cx="1575.9" cy="1086.0" r="11"/>
<circle cx="1575.9" cy="1113.1" r="11"/>
<circle cx="1575.9" cy="1140.2" r="11"/>
<circle cx="1575.9" cy="1167.3" r="11"/>
<circle cx="1575.9" cy="1194.4" r="11"/>
<circle cx="1575.9" cy="1221.5" r="11"/>
<circle cx="1575.9" cy="1248.6" r="11"/>
<circle cx="1608.5" cy="326.9" r="11"/>
<circle cx="1608.5" cy="354.0" r="11"/>
<circle cx="1608.5" cy="381.1" r="11"/>
<circle cx="1608.5" cy="408.2" r="11"/>
<circle cx="1608.5" cy="435.3" r="11"/>
<circle cx="1608.5" cy="462.4" r="11"/>
<circle cx="1608.5" cy="489.6" r="11"/>
<circle cx="1608.5" cy="516.7" r="11"/>
<circle cx="1608.5" cy="543.8" r="11"/>
<circle cx="1608.5" cy="570.9" r="11"/>
<circle cx="1608.5" cy="598.0" r="11"/>
<circle cx="1608.5" cy="625.1" r="11"/>
<circle cx="1608.5" cy="652.2" r="11"/>
<circle cx="1608.5" cy="679.3" r="11"/>
<circle cx="1608.5" cy="706.4" r="11"/>
<circle cx="1608.5" cy="733.5" r="11"/>
<circle cx="1608.5" cy="760.7" r="11"/>
<circle cx="1608.5" cy="787.8" r="11"/>
<circle cx="1608.5" cy="814.9" r="11"/>
<circle cx="1608.5" cy="842.0" r="11"/>
<circle cx="1608.5" cy="869.1" r="11"/>
<circle cx="1608.5" cy="896.2" r="11"/>
<circle cx="1608.5" cy="923.3" r="11"/>
<circle cx="1608.5" cy="950.4" r="11"/>
<circle cx="1608.5" cy="977.5" r="11"/>
<circle cx="1608.5" cy="1004.6" r="11"/>
<circle cx="1608.5" cy="1031.8" r="11"/>
<circle cx="1608.5" cy="1058.9" r="11"/>
<circle cx="1608.5" cy="1086.0" r="11"/>
<circle cx="1608.5" cy="1113.1" r="11"/>
<circle cx="1608.5" cy="1140.2" r="11"/>
<circle cx="1608.5" cy="1167.3" r="11"/>
<circle cx="1608.5" cy="1194.4" r="11"/>
<circle cx="1608.5" cy="1221.5" r="11"/>
<circle cx="1608.5" cy="1248.6" r="11"/>
<circle cx="1641.0" cy="326.9" r="11"/>
<circle cx="1641.0" cy="354.0" r="11"/>
<circle cx="1641.0" cy="381.1" r="11"/>
<circle cx="1641.0" cy="408.2" r="11"/>
<circle cx="1641.0" cy="435.3" r="11"/>
<circle cx="1641.0" cy="462.4" r="11"/>
<circle cx="1641.0" cy="489.6" r="11"/>
<circle cx="1641.0" cy="516.7" r="11"/>
<circle cx="1641.0" cy="543.8" r="11"/>
<circle cx="1641.0" cy="570.9" r="11"/>
<circle cx="1641.0" cy="598.0" r="11"/>
<circle cx="1641.0" cy="625.1" r="11"/>
<circle cx="1641.0" cy="652.2" r="11"/>
<circle cx="1641.0" cy="679.3" r="11"/>
<circle cx="1641.0" cy="706.4" r="11"/>
<circle cx="1641.0" cy="733.5" r="11"/>
<circle cx="1641.0" cy="760.7" r="11"/>
<circle cx="1641.0" cy="787.8" r="11"/>
<circle cx="1641.0" cy="814.9" r="11"/>
<circle cx="1641.0" cy="842.0" r="11"/>
<circle cx="1641.0" cy="869.1" r="11"/>
<circle cx="1641.0" cy="896.2" r="11"/>
<circle cx="1641.0" cy="923.3" r="11"/>
<circle cx="1641.0" cy="950.4" r="11"/>
<circle cx="1641.0" cy="977.5" r="11"/>
<circle cx="1641.0" cy="1004.6" r="11"/>
<circle cx="1641.0" cy="1031.8" r="11"/>
<circle cx="1641.0" cy="1058.9" r="11"/>
<circle cx="1641.0" cy="1086.0" r="11"/>
<circle cx="1641.0" cy="1113.1" r="11"/>
<circle cx="1641.0" cy="1140.2" r="11"/>
<circle cx="1641.0" cy="1167.3" r="11"/>
<circle cx="1641.0" cy="1194.4" r="11"/>
<circle cx="1641.0" cy="1221.5" r="11"/>
<circle cx="1641.0" cy="1248.6" r="11"/>
<circle cx="1673.6" cy="326.9" r="11"/>
<circle cx="1673.6" cy="354.0" r="11"/>
<circle cx="1673.6" cy="381.1" r="11"/>
<circle cx="1673.6" cy="408.2" r="11"/>
<circle cx="1673.6" cy="435.3" r="11"/>
<circle cx="1673.6" cy="462.4" r="11"/>
<circle cx="1673.6" cy="489.6" r="11"/>
<circle cx="1673.6" cy="516.7" r="11"/>
<circle cx="1673.6" cy="543.8" r="11"/>
<circle cx="1673.6" cy="570.9" r="11"/>
<circle cx="1673.6" cy="598.0" r="11"/>
<circle cx="1673.6" cy="625.1" r="11"/>
<circle cx="1673.6" cy="652.2" r="11"/>
<circle cx="1673.6" cy="679.3" r="11"/>
<circle cx="1673.6" cy="706.4" r="11"/>
<circle cx="1673.6" cy="733.5" r="11"/>
<circle cx="1673.6" cy="760.7" r="11"/>
<circle cx="1673.6" cy="787.8" r="11"/>
<circle cx="1673.6" cy="814.9" r="11"/>
<circle cx="1673.6" cy="842.0" r="11"/>
<circle cx="1673.6" cy="869.1" r="11"/>
<circle cx="1673.6" cy="896.2" r="11"/>
<circle cx="1673.6" cy="923.3" r="11"/>
<circle cx="1673.6" cy="950.4" r="11"/>
<circle cx="1673.6" cy="977.5" r="11"/>
<circle cx="1673.6" cy="1004.6" r="11"/>
<circle cx="1673.6" cy="1031.8" r="11"/>
<circle cx="1673.6" cy="1058.9" r="11"/>
<circle cx="1673.6" cy="1086.0" r="11"/>
<circle cx="1673.6" cy="1113.1" r="11"/>
<circle cx="1673.6" cy="1140.2" r="11"/>
<circle cx="1673.6" cy="1167.3" r="11"/>
<circle cx="1673.6" cy="1194.4" r="11"/>
<circle cx="1673.6" cy="1221.5" r="11"/>
<circle cx="1673.6" cy="1248.6" r="11"/>
<circle cx="1706.1" cy="326.9" r="11"/>
<circle cx="1706.1" cy="354.0" r="11"/>
<circle cx="1706.1" cy="381.1" r="11"/>
<circle cx="1706.1" cy="408.2" r="11"/>
<circle cx="1706.1" cy="435.3" r="11"/>
<circle cx="1706.1" cy="462.4" r="11"/>
<circle cx="1706.1" cy="489.6" r="11"/>
<circle cx="1706.1" cy="516.7" r="11"/>
<circle cx="1706.1" cy="543.8" r="11"/>
<circle cx="1706.1" cy="570.9" r="11"/>
<circle cx="1706.1" cy="598.0" r="11"/>
<circle cx="1706.1" cy="625.1" r="11"/>
<circle cx="1706.1" cy="652.2" r="11"/>
<circle cx="1706.1" cy="679.3" r="11"/>
<circle cx="1706.1" cy="706.4" r="11"/>
<circle cx="1706.1" cy="733.5" r="11"/>
<circle cx="1706.1" cy="760.7" r="11"/>
<circle cx="1706.1" cy="787.8" r="11"/>
<circle cx="1706.1" cy="814.9" r="11"/>
<circle cx="1706.1" cy="842.0" r="11"/>
<circle cx="1706.1" cy="869.1" r="11"/>
<circle cx="1706.1" cy="896.2" r="11"/>
<circle cx="1706.1" cy="923.3" r="11"/>
<circle cx="1706.1" cy="950.4" r="11"/>
<circle cx="1706.1" cy="977.5" r="11"/>
<circle cx="1706.1" cy="1004.6" r="11"/>
<circle cx="1706.1" cy="1031.8" r="11"/>
<circle cx="1706.1" cy="1058.9" r="11"/>
<circle cx="1706.1" cy="1086.0" r="11"/>
<circle cx="1706.1" cy="1113.1" r="11"/>
<circle cx="1706.1" cy="1140.2" r="11"/>
<circle cx="1706.1" cy="1167.3" r="11"/>
<circle cx="1706.1" cy="1194.4" r="11"/>
<circle cx="1706.1" cy="1221.5" r="11"/>
<circle cx="1706.1" cy="1248.6" r="11"/>
<circle cx="1738.7" cy="326.9" r="11"/>
<circle cx="1738.7" cy="354.0" r="11"/>
<circle cx="1738.7" cy="381.1" r="11"/>
<circle cx="1738.7" cy="408.2" r="11"/>
<circle cx="1738.7" cy="435.3" r="11"/>
<circle cx="1738.7" cy="462.4" r="11"/>
<circle cx="1738.7" cy="489.6" r="11"/>
<circle cx="1738.7" cy="516.7" r="11"/>
<circle cx="1738.7" cy="543.8" r="11"/>
<circle cx="1738.7" cy="570.9" r="11"/>
<circle cx="1738.7" cy="598.0" r="11"/>
<circle cx="1738.7" cy="625.1" r="11"/>
<circle cx="1738.7" cy="652.2" r="11"/>
<circle cx="1738.7" cy="679.3" r="11"/>
<circle cx="1738.7" cy="706.4" r="11"/>
<circle cx="1738.7" cy="733.5" r="11"/>
<circle cx="1738.7" cy="760.7" r="11"/>
<circle cx="1738.7" cy="787.8" r="11"/>
<circle cx="1738.7" cy="814.9" r="11"/>
<circle cx="1738.7" cy="842.0" r="11"/>
<circle cx="1738.7" cy="869.1" r="11"/>
<circle cx="1738.7" cy="896.2" r="11"/>
<circle cx="1738.7" cy="923.3" r="11"/>
<circle cx="1738.7" cy="950.4" r="11"/>
<circle cx="1738.7" cy="977.5" r="11"/>
<circle cx="1738.7" cy="1004.6" r="11"/>
<circle cx="1738.7" cy="1031.8" r="11"/>
<circle cx="1738.7" cy="1058.9" r="11"/>
<circle cx="1738.7" cy="1086.0" r="11"/>
<circle cx="1738.7" cy="1113.1" r="11"/>
<circle cx="1738.7" cy="1140.2" r="11"/>
<circle cx="1738.7" cy="1167.3" r="11"/>
<circle cx="1738.7" cy="1194.4" r="11"/>
<circle cx="1738.7" cy="1221.5" r="11"/>
<circle cx="1738.7" cy="1248.6" r="11"/>
<circle cx="1771.2" cy="326.9" r="11"/>
<circle cx="1771.2" cy="354.0" r="11"/>
<circle cx="1771.2" cy="381.1" r="11"/>
<circle cx="1771.2" cy="408.2" r="11"/>
<circle cx="1771.2" cy="435.3" r="11"/>
<circle cx="1771.2" cy="462.4" r="11"/>
<circle cx="1771.2" cy="489.6" r="11"/>
<circle cx="1771.2" cy="516.7" r="11"/>
<circle cx="1771.2" cy="543.8" r="11"/>
<circle cx="1771.2" cy="570.9" r="11"/>
<circle cx="1771.2" cy="598.0" r="11"/>
<circle cx="1771.2" cy="625.1" r="11"/>
<circle cx="1771.2" cy="652.2" r="11"/>
<circle cx="1771.2" cy="679.3" r="11"/>
<circle cx="1771.2" cy="706.4" r="11"/>
<circle cx="1771.2" cy="733.5" r="11"/>
<circle cx="1771.2" cy="760.7" r="11"/>
<circle cx="1771.2" cy="787.8" r="11"/>
<circle cx="1771.2" cy="814.9" r="11"/>
<circle cx="1771.2" cy="842.0" r="11"/>
<circle cx="1771.2" cy="869.1" r="11"/>
<circle cx="1771.2" cy="896.2" r="11"/>
<circle cx="1771.2" cy="923.3" r="11"/>
<circle cx="1771.2" cy="950.4" r="11"/>
<circle cx="1771.2" cy="977.5" r="11"/>
<circle cx="1771.2" cy="1004.6" r="11"/>
<circle cx="1771.2" cy="1031.8" r="11"/>
<circle cx="1771.2" cy="1058.9" r="11"/>
<circle cx="1771.2" cy="1086.0" r="11"/>
<circle cx="1771.2" cy="1113.1" r="11"/>
<circle cx="1771.2" cy="1140.2" r="11"/>
<circle cx="1771.2" cy="1167.3" r="11"/>
<circle cx="1771.2" cy="1194.4" r="11"/>
<circle cx="1771.2" cy="1221.5" r="11"/>
<circle cx="1771.2" cy="1248.6" r="11"/>
<circle cx="1803.8" cy="326.9" r="11"/>
<circle cx="1803.8" cy="354.0" r="11"/>
<circle cx="1803.8" cy="381.1" r="11"/>
<circle cx="1803.8" cy="408.2" r="11"/>
<circle cx="1803.8" cy="435.3" r="11"/>
<circle cx="1803.8" cy="462.4" r="11"/>
<circle cx="1803.8" cy="489.6" r="11"/>
<circle cx="1803.8" cy="516.7" r="11"/>
<circle cx="1803.8" cy="543.8" r="11"/>
<circle cx="1803.8" cy="570.9" r="11"/>
<circle cx="1803.8" cy="598.0" r="11"/>
<circle cx="1803.8" cy="625.1" r="11"/>
<circle cx="1803.8" cy="652.2" r="11"/>
<circle cx="1803.8" cy="679.3" r="11"/>
<circle cx="1803.8" cy="706.4" r="11"/>
<circle cx="1803.8" cy="733.5" r="11"/>
<circle cx="1803.8" cy="760.7" r="11"/>
<circle cx="1803.8" cy="787.8" r="11"/>
<circle cx="1803.8" cy="814.9" r="11"/>
<circle cx="1803.8" cy="842.0" r="11"/>
<circle cx="1803.8" cy="869.1" r="11"/>
<circle cx="1803.8" cy="896.2" r="11"/>
<circle cx="1803.8" cy="923.3" r="11"/>
<circle cx="1803.8" cy="950.4" r="11"/>
<circle cx="1803.8" cy="977.5" r="11"/>
<circle cx="1803.8" cy="1004.6" r="11"/>
<circle cx="1803.8" cy="1031.8" r="11"/>
<circle cx="1803.8" cy="1058.9" r="11"/>
<circle cx="1803.8" cy="1086.0" r="11"/>
<circle cx="1803.8" cy="1113.1" r="11"/>
<circle cx="1803.8" cy="1140.2" r="11"/>
<circle cx="1803.8" cy="1167.3" r="11"/>
<circle cx="1803.8" cy="1194.4" r="11"/>
<circle cx="1803.8" cy="1221.5" r="11"/>
<circle cx="1803.8" cy="1248.6" r="11"/>
<circle cx="1836.4" cy="326.9" r="11"/>
<circle cx="1836.4" cy="354.0" r="11"/>
<circle cx="1836.4" cy="381.1" r="11"/>
<circle cx="1836.4" cy="408.2" r="11"/>
<circle cx="1836.4" cy="435.3" r="11"/>
<circle cx="1836.4" cy="462.4" r="11"/>
<circle cx="1836.4" cy="489.6" r="11"/>
<circle cx="1836.4" cy="516.7" r="11"/>
<circle cx="1836.4" cy="543.8" r="11"/>
<circle cx="1836.4" cy="570.9" r="11"/>
<circle cx="1836.4" cy="598.0" r="11"/>
<circle cx="1836.4" cy="625.1" r="11"/>
<circle cx="1836.4" cy="652.2" r="11"/>
<circle cx="1836.4" cy="679.3" r="11"/>
<circle cx="1836.4" cy="706.4" r="11"/>
<circle cx="1836.4" cy="733.5" r="11"/>
<circle cx="1836.4" cy="760.7" r="11"/>
<circle cx="1836.4" cy="787.8" r="11"/>
<circle cx="1836.4" cy="814.9" r="11"/>
<circle cx="1836.4" cy="842.0" r="11"/>
<circle cx="1836.4" cy="869.1" r="11"/>
<circle cx="1836.4" cy="896.2" r="11"/>
<circle cx="1836.4" cy="923.3" r="11"/>
<circle cx="1836.4" cy="950.4" r="11"/>
<circle cx="1836.4" cy="977.5" r="11"/>
<circle cx="1836.4" cy="1004.6" r="11"/>
<circle cx="1836.4" cy="1031.8" r="11"/>
<circle cx="1836.4" cy="1058.9" r="11"/>
<circle cx="1836.4" cy="1086.0" r="11"/>
<circle cx="1836.4" cy="1113.1" r="11"/>
<circle cx="1836.4" cy="1140.2" r="11"/>
<circle cx="1836.4" cy="1167.3" r="11"/>
<circle cx="1836.4" cy="1194.4" r="11"/>
<circle cx="1836.4" cy="1221.5" r="11"/>
<circle cx="1836.4" cy="1248.6" r="11"/>
<circle cx="1868.9" cy="326.9" r="11"/>
<circle cx="1868.9" cy="354.0" r="11"/>
<circle cx="1868.9" cy="381.1" r="11"/>
<circle cx="1868.9" cy="408.2" r="11"/>
<circle cx="1868.9" cy="435.3" r="11"/>
<circle cx="1868.9" cy="462.4" r="11"/>
<circle cx="1868.9" cy="489.6" r="11"/>
<circle cx="1868.9" cy="516.7" r="11"/>
<circle cx="1868.9" cy="543.8" r="11"/>
<circle cx="1868.9" cy="570.9" r="11"/>
<circle cx="1868.9" cy="598.0" r="11"/>
<circle cx="1868.9" cy="625.1" r="11"/>
<circle cx="1868.9" cy="652.2" r="11"/>
<circle cx="1868.9" cy="679.3" r="11"/>
<circle cx="1868.9" cy="706.4" r="11"/>
<circle cx="1868.9" cy="733.5" r="11"/>
<circle cx="1868.9" cy="760.7" r="11"/>
<circle cx="1868.9" cy="787.8" r="11"/>
<circle cx="1868.9" cy="814.9" r="11"/>
<circle cx="1868.9" cy="842.0" r="11"/>
<circle cx="1868.9" cy="869.1" r="11"/>
<circle cx="1868.9" cy="896.2" r="11"/>
<circle cx="1868.9" cy="923.3" r="11"/>
<circle cx="1868.9" cy="950.4" r="11"/>
<circle cx="1868.9" cy="977.5" r="11"/>
<circle cx="1868.9" cy="1004.6" r="11"/>
<circle cx="1868.9" cy="1031.8" r="11"/>
<circle cx="1868.9" cy="1058.9" r="11"/>
<circle cx="1868.9" cy="1086.0" r="11"/>
<circle cx="1868.9" cy="1113.1" r="11"/>
<circle cx="1868.9" cy="1140.2" r="11"/>
<circle cx="1868.9" cy="1167.3" r="11"/>
<circle cx="1868.9" cy="1194.4" r="11"/>
<circle cx="1868.9" cy="1221.5" r="11"/>
<circle cx="1868.9" cy="1248.6" r="11"/>
<circle cx="1901.5" cy="326.9" r="11"/>
<circle cx="1901.5" cy="354.0" r="11"/>
<circle cx="1901.5" cy="381.1" r="11"/>
<circle cx="1901.5" cy="408.2" r="11"/>
<circle cx="1901.5" cy="435.3" r="11"/>
<circle cx="1901.5" cy="462.4" r="11"/>
<circle cx="1901.5" cy="489.6" r="11"/>
<circle cx="1901.5" cy="516.7" r="11"/>
<circle cx="1901.5" cy="543.8" r="11"/>
<circle cx="1901.5" cy="570.9" r="11"/>
<circle cx="1901.5" cy="598.0" r="11"/>
<circle cx="1901.5" cy="625.1" r="11"/>
<circle cx="1901.5" cy="652.2" r="11"/>
<circle cx="1901.5" cy="679.3" r="11"/>
<circle cx="1901.5" cy="706.4" r="11"/>
<circle cx="1901.5" cy="733.5" r="11"/>
<circle cx="1901.5" cy="760.7" r="11"/>
<circle cx="1901.5" cy="787.8" r="11"/>
<circle cx="1901.5" cy="814.9" r="11"/>
<circle cx="1901.5" cy="842.0" r="11"/>
<circle cx="1901.5" cy="869.1" r="11"/>
<circle cx="1901.5" cy="896.2" r="11"/>
<circle cx="1901.5" cy="923.3" r="11"/>
<circle cx="1901.5" cy="950.4" r="11"/>
<circle cx="1901.5" cy="977.5" r="11"/>
<circle cx="1901.5" cy="1004.6" r="11"/>
<circle cx="1901.5" cy="1031.8" r="11"/>
<circle cx="1901.5" cy="1058.9" r="11"/>
<circle cx="1901.5" cy="1086.0" r="11"/>
<circle cx="1901.5" cy="1113.1" r="11"/>
<circle cx="1901.5" cy="1140.2" r="11"/>
<circle cx="1901.5" cy="1167.3" r="11"/>
<circle cx="1901.5" cy="1194.4" r="11"/>
<circle cx="1901.5" cy="1221.5" r="11"/>
<circle cx="1901.5" cy="1248.6" r="11"/>
<circle cx="1934.0" cy="326.9" r="11"/>
<circle cx="1934.0" cy="354.0" r="11"/>
<circle cx="1934.0" cy="381.1" r="11"/>
<circle cx="1934.0" cy="408.2" r="11"/>
<circle cx="1934.0" cy="435.3" r="11"/>
<circle cx="1934.0" cy="462.4" r="11"/>
<circle cx="1934.0" cy="489.6" r="11"/>
<circle cx="1934.0" cy="516.7" r="11"/>
<circle cx="1934.0" cy="543.8" r="11"/>
<circle cx="1934.0" cy="570.9" r="11"/>
<circle cx="1934.0" cy="598.0" r="11"/>
<circle cx="1934.0" cy="625.1" r="11"/>
<circle cx="1934.0" cy="652.2" r="11"/>
<circle cx="1934.0" cy="679.3" r="11"/>
<circle cx="1934.0" cy="706.4" r="11"/>
<circle cx="1934.0" cy="733.5" r="11"/>
<circle cx="1934.0" cy="760.7" r="11"/>
<circle cx="1934.0" cy="787.8" r="11"/>
<circle cx="1934.0" cy="814.9" r="11"/>
<circle cx="1934.0" cy="842.0" r="11"/>
<circle cx="1934.0" cy="869.1" r="11"/>
<circle cx="1934.0" cy="896.2" r="11"/>
<circle cx="1934.0" cy="923.3" r="11"/>
<circle cx="1934.0" cy="950.4" r="11"/>
<circle cx="1934.0" cy="977.5" r="11"/>
<circle cx="1934.0" cy="1004.6" r="11"/>
<circle cx="1934.0" cy="1031.8" r="11"/>
<circle cx="1934.0" cy="1058.9" r="11"/>
<circle cx="1934.0" cy="1086.0" r="11"/>
<circle cx="1934.0" cy="1113.1" r="11"/>
<circle cx="1934.0" cy="1140.2" r="11"/>
<circle cx="1934.0" cy="1167.3" r="11"/>
<circle cx="1934.0" cy="1194.4" r="11"/>
<circle cx="1934.0" cy="1221.5" r="11"/>
<circle cx="1934.0" cy="1248.6" r="11"/>
<circle cx="1966.6" cy="326.9" r="11"/>
<circle cx="1966.6" cy="354.0" r="11"/>
<circle cx="1966.6" cy="381.1" r="11"/>
<circle cx="1966.6" cy="408.2" r="11"/>
<circle cx="1966.6" cy="435.3" r="11"/>
<circle cx="1966.6" cy="462.4" r="11"/>
<circle cx="1966.6" cy="489.6" r="11"/>
<circle cx="1966.6" cy="516.7" r="11"/>
<circle cx="1966.6" cy="543.8" r="11"/>
<circle cx="1966.6" cy="570.9" r="11"/>
<circle cx="1966.6" cy="598.0" r="11"/>
<circle cx="1966.6" cy="625.1" r="11"/>
<circle cx="1966.6" cy="652.2" r="11"/>
<circle cx="1966.6" cy="679.3" r="11"/>
<circle cx="1966.6" cy="706.4" r="11"/>
<circle cx="1966.6" cy="733.5" r="11"/>
<circle cx="1966.6" cy="760.7" r="11"/>
<circle cx="1966.6" cy="787.8" r="11"/>
<circle cx="1966.6" cy="814.9" r="11"/>
<circle cx="1966.6" cy="842.0" r="11"/>
<circle cx="1966.6" cy="869.1" r="11"/>
<circle cx="1966.6" cy="896.2" r="11"/>
<circle cx="1966.6" cy="923.3" r="11"/>
<circle cx="1966.6" cy="950.4" r="11"/>
<circle cx="1966.6" cy="977.5" r="11"/>
<circle cx="1966.6" cy="1004.6" r="11"/>
<circle cx="1966.6" cy="1031.8" r="11"/>
<circle cx="1966.6" cy="1058.9" r="11"/>
<circle cx="1966.6" cy="1086.0" r="11"/>
<circle cx="1966.6" cy="1113.1" r="11"/>
<circle cx="1966.6" cy="1140.2" r="11"/>
<circle cx="1966.6" cy="1167.3" r="11"/>
<circle cx="1966.6" cy="1194.4" r="11"/>
<circle cx="1966.6" cy="1221.5" r="11"/>
<circle cx="1966.6" cy="1248.6" r="11"/>
<circle cx="1999.1" cy="326.9" r="11"/>
<circle cx="1999.1" cy="354.0" r="11"/>
<circle cx="1999.1" cy="381.1" r="11"/>
<circle cx="1999.1" cy="408.2" r="11"/>
<circle cx="1999.1" cy="435.3" r="11"/>
<circle cx="1999.1" cy="462.4" r="11"/>
<circle cx="1999.1" cy="489.6" r="11"/>
<circle cx="1999.1" cy="516.7" r="11"/>
<circle cx="1999.1" cy="543.8" r="11"/>
<circle cx="1999.1" cy="570.9" r="11"/>
<circle cx="1999.1" cy="598.0" r="11"/>
<circle cx="1999.1" cy="625.1" r="11"/>
<circle cx="1999.1" cy="652.2" r="11"/>
<circle cx="1999.1" cy="679.3" r="11"/>
<circle cx="1999.1" cy="706.4" r="11"/>
<circle cx="1999.1" cy="733.5" r="11"/>
<circle cx="1999.1" cy="760.7" r="11"/>
<circle cx="1999.1" cy="787.8" r="11"/>
<circle cx="1999.1" cy="814.9" r="11"/>
<circle cx="1999.1" cy="842.0" r="11"/>
<circle cx="1999.1" cy="869.1" r="11"/>
<circle cx="1999.1" cy="896.2" r="11"/>
<circle cx="1999.1" cy="923.3" r="11"/>
<circle cx="1999.1" cy="950.4" r="11"/>
<circle cx="1999.1" cy="977.5" r="11"/>
<circle cx="1999.1" cy="1004.6" r="11"/>
<circle cx="1999.1" cy="1031.8" r="11"/>
<circle cx="1999.1" cy="1058.9" r="11"/>
<circle cx="1999.1" cy="1086.0" r="11"/>
<circle cx="1999.1" cy="1113.1" r="11"/>
<circle cx="1999.1" cy="1140.2" r="11"/>
<circle cx="1999.1" cy="1167.3" r="11"/>
<circle cx="1999.1" cy="1194.4" r="11"/>
<circle cx="1999.1" cy="1221.5" r="11"/>
<circle cx="1999.1" cy="1248.6" r="11"/>
<circle cx="2031.7" cy="326.9" r="11"/>
<circle cx="2031.7" cy="354.0" r="11"/>
<circle cx="2031.7" cy="381.1" r="11"/>
<circle cx="2031.7" cy="408.2" r="11"/>
<circle cx="2031.7" cy="435.3" r="11"/>
<circle cx="2031.7" cy="462.4" r="11"/>
<circle cx="2031.7" cy="489.6" r="11"/>
<circle cx="2031.7" cy="516.7" r="11"/>
<circle cx="2031.7" cy="543.8" r="11"/>
<circle cx="2031.7" cy="570.9" r="11"/>
<circle cx="2031.7" cy="598.0" r="11"/>
<circle cx="2031.7" cy="625.1" r="11"/>
<circle cx="2031.7" cy="652.2" r="11"/>
<circle cx="2031.7" cy="679.3" r="11"/>
<circle cx="2031.7" cy="706.4" r="11"/>
<circle cx="2031.7" cy="733.5" r="11"/>
<circle cx="2031.7" cy="760.7" r="11"/>
<circle cx="2031.7" cy="787.8" r="11"/>
<circle cx="2031.7" cy="814.9" r="11"/>
<circle cx="2031.7" cy="842.0" r="11"/>
<circle cx="2031.7" cy="869.1" r="11"/>
<circle cx="2031.7" cy="896.2" r="11"/>
<circle cx="2031.7" cy="923.3" r="11"/>
<circle cx="2031.7" cy="950.4" r="11"/>
<circle cx="2031.7" cy="977.5" r="11"/>
<circle cx="2031.7" cy="1004.6" r="11"/>
<circle cx="2031.7" cy="1031.8" r="11"/>
<circle cx="2031.7" cy="1058.9" r="11"/>
<circle cx="2031.7" cy="1086.0" r="11"/>
<circle cx="2031.7" cy="1113.1" r="11"/>
<circle cx="2031.7" cy="1140.2" r="11"/>
<circle cx="2031.7" cy="1167.3" r="11"/>
<circle cx="2031.7" cy="1194.4" r="11"/>
<circle cx="2031.7" cy="1221.5" r="11"/>
<circle cx="2031.7" cy="1248.6" r="11"/>
<circle cx="2064.3" cy="326.9" r="11"/>
<circle cx="2064.3" cy="354.0" r="11"/>
<circle cx="2064.3" cy="381.1" r="11"/>
<circle cx="2064.3" cy="408.2" r="11"/>
<circle cx="2064.3" cy="435.3" r="11"/>
<circle cx="2064.3" cy="462.4" r="11"/>
<circle cx="2064.3" cy="489.6" r="11"/>
<circle cx="2064.3" cy="516.7" r="11"/>
<circle cx="2064.3" cy="543.8" r="11"/>
<circle cx="2064.3" cy="570.9" r="11"/>
<circle cx="2064.3" cy="598.0" r="11"/>
<circle cx="2064.3" cy="625.1" r="11"/>
<circle cx="2064.3" cy="652.2" r="11"/>
<circle cx="2064.3" cy="679.3" r="11"/>
<circle cx="2064.3" cy="706.4" r="11"/>
<circle cx="2064.3" cy="733.5" r="11"/>
<circle cx="2064.3" cy="760.7" r="11"/>
<circle cx="2064.3" cy="787.8" r="11"/>
<circle cx="2064.3" cy="814.9" r="11"/>
<circle cx="2064.3" cy="842.0" r="11"/>
<circle cx="2064.3" cy="869.1" r="11"/>
<circle cx="2064.3" cy="896.2" r="11"/>
<circle cx="2064.3" cy="923.3" r="11"/>
<circle cx="2064.3" cy="950.4" r="11"/>
<circle cx="2064.3" cy="977.5" r="11"/>
<circle cx="2064.3" cy="1004.6" r="11"/>
<circle cx="2064.3" cy="1031.8" r="11"/>
<circle cx="2064.3" cy="1058.9" r="11"/>
<circle cx="2064.3" cy="1086.0" r="11"/>
<circle cx="2064.3" cy="1113.1" r="11"/>
<circle cx="2064.3" cy="1140.2" r="11"/>
<circle cx="2064.3" cy="1167.3" r="11"/>
<circle cx="2064.3" cy="1194.4" r="11"/>
<circle cx="2064.3" cy="1221.5" r="11"/>
<circle cx="2064.3" cy="1248.6" r="11"/>
<circle cx="2096.8" cy="326.9" r="11"/>
<circle cx="2096.8" cy="354.0" r="11"/>
<circle cx="2096.8" cy="381.1" r="11"/>
<circle cx="2096.8" cy="408.2" r="11"/>
<circle cx="2096.8" cy="435.3" r="11"/>
<circle cx="2096.8" cy="462.4" r="11"/>
<circle cx="2096.8" cy="489.6" r="11"/>
<circle cx="2096.8" cy="516.7" r="11"/>
<circle cx="2096.8" cy="543.8" r="11"/>
<circle cx="2096.8" cy="570.9" r="11"/>
<circle cx="2096.8" cy="598.0" r="11"/>
<circle cx="2096.8" cy="625.1" r="11"/>
<circle cx="2096.8" cy="652.2" r="11"/>
<circle cx="2096.8" cy="679.3" r="11"/>
<circle cx="2096.8" cy="706.4" r="11"/>
<circle cx="2096.8" cy="733.5" r="11"/>
<circle cx="2096.8" cy="760.7" r="11"/>
<circle cx="2096.8" cy="787.8" r="11"/>
<circle cx="2096.8" cy="814.9" r="11"/>
<circle cx="2096.8" cy="842.0" r="11"/>
<circle cx="2096.8" cy="869.1" r="11"/>
<circle cx="2096.8" cy="896.2" r="11"/>
<circle cx="2096.8" cy="923.3" r="11"/>
<circle cx="2096.8" cy="950.4" r="11"/>
<circle cx="2096.8" cy="977.5" r="11"/>
<circle cx="2096.8" cy="1004.6" r="11"/>
<circle cx="2096.8" cy="1031.8" r="11"/>
<circle cx="2096.8" cy="1058.9" r="11"/>
<circle cx="2096.8" cy="1086.0" r="11"/>
<circle cx="2096.8" cy="1113.1" r="11"/>
<circle cx="2096.8" cy="1140.2" r="11"/>
<circle cx="2096.8" cy="1167.3" r="11"/>
<circle cx="2096.8" cy="1194.4" r="11"/>
<circle cx="2096.8" cy="1221.5" r="11"/>
<circle cx="2096.8" cy="1248.6" r="11"/>
</g>
<g fill="#5c5c5c" stroke="#5c5c5c">
<circle cx="664.3" cy="326.9" r="11.8" stroke="none"/>
<circle cx="696.9" cy="408.2" r="11.8" stroke="none"/>
<circle cx="729.4" cy="354.0" r="11.8" stroke="none"/>
<circle cx="762.0" cy="381.1" r="11.8" stroke="none"/>
<circle cx="794.5" cy="435.3" r="11.8" stroke="none"/>
<circle cx="827.1" cy="462.4" r="11.8" stroke="none"/>
<circle cx="859.6" cy="570.9" r="11.8" stroke="none"/>
<circle cx="892.2" cy="543.8" r="11.8" stroke="none"/>
<circle cx="924.8" cy="489.6" r="11.8" stroke="none"/>
<circle cx="957.3" cy="516.7" r="11.8" stroke="none"/>
<circle cx="989.9" cy="679.3" r="11.8" stroke="none"/>
<circle cx="1022.4" cy="598.0" r="11.8" stroke="none"/>
<circle cx="1055.0" cy="625.1" r="11.8" stroke="none"/>
<circle cx="1087.5" cy="652.2" r="11.8" stroke="none"/>
<line x1="1120.1" x2="1120.1" y1="326.9" y2="354.0" stroke-width="3.8"/>
<circle cx="1120.1" cy="326.9" r="11.8" stroke="none"/>
<circle cx="1120.1" cy="354.0" r="11.8" stroke="none"/>
<circle cx="1152.7" cy="706.4" r="11.8" stroke="none"/>
<circle cx="1185.2" cy="760.7" r="11.8" stroke="none"/>
<line x1="1217.8" x2="1217.8" y1="326.9" y2="381.1" stroke-width="3.8"/>
<circle cx="1217.8" cy="326.9" r="11.8" stroke="none"/>
<circle cx="1217.8" cy="381.1" r="11.8" stroke="none"/>
<circle cx="1250.3" cy="733.5" r="11.8" stroke="none"/>
<circle cx="1282.9" cy="896.2" r="11.8" stroke="none"/>
<line x1="1315.4" x2="1315.4" y1="408.2" y2="435.3" stroke-width="3.8"/>
<circle cx="1315.4" cy="408.2" r="11.8" stroke="none"/>
<circle cx="1315.4" cy="435.3" r="11.8" stroke="none"/>
<circle cx="1348.0" cy="869.1" r="11.8" stroke="none"/>
<circle cx="1380.6" cy="787.8" r="11.8" stroke="none"/>
<line x1="1413.1" x2="1413.1" y1="354.0" y2="489.6" stroke-width="3.8"/>
<circle cx="1413.1" cy="354.0" r="11.8" stroke="none"/>
<circle cx="1413.1" cy="489.6" r="11.8" stroke="none"/>
<circle cx="1445.7" cy="814.9" r="11.8" stroke="none"/>
<circle cx="1478.2" cy="1031.8" r="11.8" stroke="none"/>
<line x1="1510.8" x2="1510.8" y1="354.0" y2="381.1" stroke-width="3.8"/>
<circle cx="1510.8" cy="354.0" r="11.8" stroke="none"/>
<circle cx="1510.8" cy="381.1" r="11.8" stroke="none"/>
<line x1="1543.3" x2="1543.3" y1="381.1" y2="408.2" stroke-width="3.8"/>
<circle cx="1543.3" cy="381.1" r="11.8" stroke="none"/>
<circle cx="1543.3" cy="408.2" r="11.8" stroke="none"/>
<circle cx="1575.9" cy="842.0" r="11.8" stroke="none"/>
<line x1="1608.5" x2="1608.5" y1="326.9" y2="408.2" stroke-width="3.8"/>
<circle cx="1608.5" cy="326.9" r="11.8" stroke="none"/>
<circle cx="1608.5" cy="408.2" r="11.8" stroke="none"/>
<circle cx="1641.0" cy="950.4" r="11.8" stroke="none"/>
<circle cx="1673.6" cy="1058.9" r="11.8" stroke="none"/>
<line x1="1706.1" x2="1706.1" y1="326.9" y2="625.1" stroke-width="3.8"/>
<circle cx="1706.1" cy="326.9" r="11.8" stroke="none"/>
<circle cx="1706.1" cy="625.1" r="11.8" stroke="none"/>
<line x1="1738.7" x2="1738.7" y1="354.0" y2="408.2" stroke-width="3.8"/>
<circle cx="1738.7" cy="354.0" r="11.8" stroke="none"/>
<circle cx="1738.7" cy="408.2" r="11.8" stroke="none"/>
<line x1="1771.2" x2="1771.2" y1="381.1" y2="435.3" stroke-width="3.8"/>
<circle cx="1771.2" cy="381.1" r="11.8" stroke="none"/>
<circle cx="1771.2" cy="435.3" r="11.8" stroke="none"/>
<circle cx="1803.8" cy="1004.6" r="11.8" stroke="none"/>
<circle cx="1836.4" cy="1194.4" r="11.8" stroke="none"/>
<circle cx="1868.9" cy="977.5" r="11.8" stroke="none"/>
<line x1="1901.5" x2="1901.5" y1="381.1" y2="462.4" stroke-width="3.8"/>
<circle cx="1901.5" cy="381.1" r="11.8" stroke="none"/>
<circle cx="1901.5" cy="462.4" r="11.8" stroke="none"/>
<line x1="1934.0" x2="1934.0" y1="462.4" y2="516.7" stroke-width="3.8"/>
<circle cx="1934.0" cy="462.4" r="11.8" stroke="none"/>
<circle cx="1934.0" cy="516.7" r="11.8" stroke="none"/>
<circle cx="1966.6" cy="1248.6" r="11.8" stroke="none"/>
<circle cx="1999.1" cy="923.3" r="11.8" stroke="none"/>
<line x1="2031.7" x2="2031.7" y1="381.1" y2="516.7" stroke-width="3.8"/>
<circle cx="2031.7" cy="381.1" r="11.8" stroke="none"/>
<circle cx="2031.7" cy="516.7" r="11.8" stroke="none"/>
<line x1="2064.3" x2="2064.3" y1="326.9" y2="489.6" stroke-width="3.8"/>
<circle cx="2064.3" cy="326.9" r="11.8" stroke="none"/>
<circle cx="2064.3" cy="354.0" r="11.8" stroke="none"/>
<circle cx="2064.3" cy="489.6" r="11.8" stroke="none"/>
<circle cx="2096.8" cy="1086.0" r="11.8" stroke="none"/>
</g>
</svg>
</body></html>
